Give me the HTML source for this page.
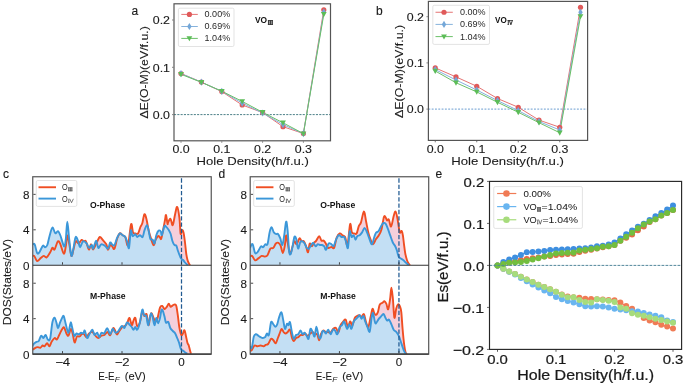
<!DOCTYPE html>
<html><head><meta charset="utf-8"><title>Figure</title>
<style>html,body{margin:0;padding:0;background:#fff;}body{width:685px;height:384px;overflow:hidden;font-family:"Liberation Sans",sans-serif;}svg{display:block;will-change:transform;}</style>
</head><body>
<svg width="685" height="384" viewBox="0 0 685 384" font-family='"Liberation Sans", sans-serif'>
<rect width="685" height="384" fill="#fff"/>
<line x1="174.00" y1="114.60" x2="330.50" y2="114.60" stroke="#4d8088" stroke-width="1.0" stroke-dasharray="2.1 1.2"/>
<polyline points="181.00,73.50 201.40,82.10 221.80,91.60 242.20,105.00 262.60,112.60 283.00,126.70 303.40,133.50 323.80,9.75" fill="none" stroke="#e57373" stroke-width="1.0"/>
<polyline points="181.00,73.60 201.40,82.20 221.80,91.30 242.20,103.10 262.60,113.00 283.00,124.60 303.40,133.60 323.80,12.20" fill="none" stroke="#86b2dc" stroke-width="1.0"/>
<polyline points="181.00,74.30 201.40,82.30 221.80,91.20 242.20,101.40 262.60,112.30 283.00,122.80 303.40,133.60 323.80,14.30" fill="none" stroke="#6cc068" stroke-width="1.0"/>
<circle cx="181.00" cy="73.50" r="2.60" fill="#e05a5a"/>
<circle cx="201.40" cy="82.10" r="2.60" fill="#e05a5a"/>
<circle cx="221.80" cy="91.60" r="2.60" fill="#e05a5a"/>
<circle cx="242.20" cy="105.00" r="2.60" fill="#e05a5a"/>
<circle cx="262.60" cy="112.60" r="2.60" fill="#e05a5a"/>
<circle cx="283.00" cy="126.70" r="2.60" fill="#e05a5a"/>
<circle cx="303.40" cy="133.50" r="2.60" fill="#e05a5a"/>
<circle cx="323.80" cy="9.75" r="2.60" fill="#e05a5a"/>
<polygon points="181.00,70.00 183.20,73.60 181.00,77.20 178.80,73.60" fill="#74a7d8"/>
<polygon points="201.40,78.60 203.60,82.20 201.40,85.80 199.20,82.20" fill="#74a7d8"/>
<polygon points="221.80,87.70 224.00,91.30 221.80,94.90 219.60,91.30" fill="#74a7d8"/>
<polygon points="242.20,99.50 244.40,103.10 242.20,106.70 240.00,103.10" fill="#74a7d8"/>
<polygon points="262.60,109.40 264.80,113.00 262.60,116.60 260.40,113.00" fill="#74a7d8"/>
<polygon points="283.00,121.00 285.20,124.60 283.00,128.20 280.80,124.60" fill="#74a7d8"/>
<polygon points="303.40,130.00 305.60,133.60 303.40,137.20 301.20,133.60" fill="#74a7d8"/>
<polygon points="323.80,8.60 326.00,12.20 323.80,15.80 321.60,12.20" fill="#74a7d8"/>
<polygon points="178.10,72.10 183.90,72.10 181.00,77.20" fill="#5cbd57"/>
<polygon points="198.50,80.10 204.30,80.10 201.40,85.20" fill="#5cbd57"/>
<polygon points="218.90,89.00 224.70,89.00 221.80,94.10" fill="#5cbd57"/>
<polygon points="239.30,99.20 245.10,99.20 242.20,104.30" fill="#5cbd57"/>
<polygon points="259.70,110.10 265.50,110.10 262.60,115.20" fill="#5cbd57"/>
<polygon points="280.10,120.60 285.90,120.60 283.00,125.70" fill="#5cbd57"/>
<polygon points="300.50,131.40 306.30,131.40 303.40,136.50" fill="#5cbd57"/>
<polygon points="320.90,12.10 326.70,12.10 323.80,17.20" fill="#5cbd57"/>
<rect x="174.00" y="3.80" width="156.50" height="137.00" fill="none" stroke="#555555" stroke-width="1.2"/>
<line x1="181.00" y1="141.40" x2="181.00" y2="142.70" stroke="#555555" stroke-width="0.8"/>
<text x="181.00" y="152.70" font-size="11.5" text-anchor="middle" fill="#1a1a1a" textLength="17.20" lengthAdjust="spacingAndGlyphs" stroke="#1a1a1a" stroke-width="0.12">0.0</text>
<line x1="221.80" y1="141.40" x2="221.80" y2="142.70" stroke="#555555" stroke-width="0.8"/>
<text x="221.80" y="152.70" font-size="11.5" text-anchor="middle" fill="#1a1a1a" textLength="17.20" lengthAdjust="spacingAndGlyphs" stroke="#1a1a1a" stroke-width="0.12">0.1</text>
<line x1="262.60" y1="141.40" x2="262.60" y2="142.70" stroke="#555555" stroke-width="0.8"/>
<text x="262.60" y="152.70" font-size="11.5" text-anchor="middle" fill="#1a1a1a" textLength="17.20" lengthAdjust="spacingAndGlyphs" stroke="#1a1a1a" stroke-width="0.12">0.2</text>
<line x1="303.40" y1="141.40" x2="303.40" y2="142.70" stroke="#555555" stroke-width="0.8"/>
<text x="303.40" y="152.70" font-size="11.5" text-anchor="middle" fill="#1a1a1a" textLength="17.20" lengthAdjust="spacingAndGlyphs" stroke="#1a1a1a" stroke-width="0.12">0.3</text>
<line x1="173.40" y1="114.60" x2="172.10" y2="114.60" stroke="#555555" stroke-width="0.8"/>
<text x="170.00" y="118.80" font-size="11.4" text-anchor="end" fill="#1a1a1a" textLength="17.20" lengthAdjust="spacingAndGlyphs" stroke="#1a1a1a" stroke-width="0.12">0.0</text>
<line x1="173.40" y1="67.30" x2="172.10" y2="67.30" stroke="#555555" stroke-width="0.8"/>
<text x="170.00" y="71.50" font-size="11.4" text-anchor="end" fill="#1a1a1a" textLength="17.20" lengthAdjust="spacingAndGlyphs" stroke="#1a1a1a" stroke-width="0.12">0.1</text>
<line x1="173.40" y1="20.00" x2="172.10" y2="20.00" stroke="#555555" stroke-width="0.8"/>
<text x="170.00" y="24.20" font-size="11.4" text-anchor="end" fill="#1a1a1a" textLength="17.20" lengthAdjust="spacingAndGlyphs" stroke="#1a1a1a" stroke-width="0.12">0.2</text>
<text x="196.60" y="165.20" font-size="10.6" text-anchor="start" fill="#1a1a1a" textLength="112.30" lengthAdjust="spacingAndGlyphs" stroke="#1a1a1a" stroke-width="0.08">Hole Density(h/f.u.)</text>
<text x="148.30" y="118.60" font-size="11.0" text-anchor="start" fill="#1a1a1a" textLength="92.40" lengthAdjust="spacingAndGlyphs" transform="rotate(-90 148.30 118.60)" stroke="#1a1a1a" stroke-width="0.10">ΔE(O-M)(eV/f.u.)</text>
<text x="131.60" y="14.80" font-size="12.0" text-anchor="start" fill="#1a1a1a" stroke="#1a1a1a" stroke-width="0.14">a</text>
<text x="255.00" y="23.40" font-size="8.6" text-anchor="start" fill="#111" textLength="12.10" lengthAdjust="spacingAndGlyphs" font-weight="bold">VO</text>
<rect x="267.90" y="20.10" width="5.00" height="4.80" fill="#9a9a9a"/>
<g fill="#333" opacity="1.0">
<rect x="267.90" y="20.10" width="5.00" height="0.80"/>
<rect x="267.90" y="24.10" width="5.00" height="0.80"/>
<rect x="268.05" y="20.10" width="0.90" height="4.80"/>
<rect x="269.95" y="20.10" width="0.90" height="4.80"/>
<rect x="271.85" y="20.10" width="0.90" height="4.80"/>
</g>
<rect x="178.40" y="8.20" width="55.60" height="38.30" rx="1.5" fill="#fff" fill-opacity="0.8" stroke="#dcdcdc" stroke-width="0.8"/>
<line x1="181.30" y1="14.40" x2="197.80" y2="14.40" stroke="#e57373" stroke-width="1.0"/>
<circle cx="189.40" cy="14.40" r="2.60" fill="#e05a5a"/>
<text x="204.60" y="17.30" font-size="8.3" text-anchor="start" fill="#2a2a2a" textLength="25.60" lengthAdjust="spacingAndGlyphs">0.00%</text>
<line x1="181.30" y1="26.50" x2="197.80" y2="26.50" stroke="#86b2dc" stroke-width="1.0"/>
<polygon points="189.40,22.90 191.60,26.50 189.40,30.10 187.20,26.50" fill="#74a7d8"/>
<text x="204.60" y="29.40" font-size="8.3" text-anchor="start" fill="#2a2a2a" textLength="25.60" lengthAdjust="spacingAndGlyphs">0.69%</text>
<line x1="181.30" y1="38.40" x2="197.80" y2="38.40" stroke="#6cc068" stroke-width="1.0"/>
<polygon points="186.50,36.20 192.30,36.20 189.40,41.30" fill="#5cbd57"/>
<text x="204.60" y="41.30" font-size="8.3" text-anchor="start" fill="#2a2a2a" textLength="25.60" lengthAdjust="spacingAndGlyphs">1.04%</text>
<line x1="428.40" y1="109.10" x2="587.60" y2="109.10" stroke="#6a9dd0" stroke-width="1.0" stroke-dasharray="1.9 1.4"/>
<polyline points="435.25,67.90 456.00,76.90 476.75,86.25 497.50,98.50 518.25,107.25 539.00,120.10 559.75,127.25 580.50,7.25" fill="none" stroke="#e57373" stroke-width="1.0"/>
<polyline points="435.25,69.60 456.00,80.00 476.75,90.00 497.50,100.60 518.25,110.60 539.00,121.50 559.75,130.00 580.50,12.25" fill="none" stroke="#86b2dc" stroke-width="1.0"/>
<polyline points="435.25,71.00 456.00,82.75 476.75,91.90 497.50,102.25 518.25,112.25 539.00,122.70 559.75,132.75 580.50,16.40" fill="none" stroke="#6cc068" stroke-width="1.0"/>
<circle cx="435.25" cy="67.90" r="2.60" fill="#e05a5a"/>
<circle cx="456.00" cy="76.90" r="2.60" fill="#e05a5a"/>
<circle cx="476.75" cy="86.25" r="2.60" fill="#e05a5a"/>
<circle cx="497.50" cy="98.50" r="2.60" fill="#e05a5a"/>
<circle cx="518.25" cy="107.25" r="2.60" fill="#e05a5a"/>
<circle cx="539.00" cy="120.10" r="2.60" fill="#e05a5a"/>
<circle cx="559.75" cy="127.25" r="2.60" fill="#e05a5a"/>
<circle cx="580.50" cy="7.25" r="2.60" fill="#e05a5a"/>
<polygon points="435.25,66.00 437.45,69.60 435.25,73.20 433.05,69.60" fill="#74a7d8"/>
<polygon points="456.00,76.40 458.20,80.00 456.00,83.60 453.80,80.00" fill="#74a7d8"/>
<polygon points="476.75,86.40 478.95,90.00 476.75,93.60 474.55,90.00" fill="#74a7d8"/>
<polygon points="497.50,97.00 499.70,100.60 497.50,104.20 495.30,100.60" fill="#74a7d8"/>
<polygon points="518.25,107.00 520.45,110.60 518.25,114.20 516.05,110.60" fill="#74a7d8"/>
<polygon points="539.00,117.90 541.20,121.50 539.00,125.10 536.80,121.50" fill="#74a7d8"/>
<polygon points="559.75,126.40 561.95,130.00 559.75,133.60 557.55,130.00" fill="#74a7d8"/>
<polygon points="580.50,8.65 582.70,12.25 580.50,15.85 578.30,12.25" fill="#74a7d8"/>
<polygon points="432.35,68.80 438.15,68.80 435.25,73.90" fill="#5cbd57"/>
<polygon points="453.10,80.55 458.90,80.55 456.00,85.65" fill="#5cbd57"/>
<polygon points="473.85,89.70 479.65,89.70 476.75,94.80" fill="#5cbd57"/>
<polygon points="494.60,100.05 500.40,100.05 497.50,105.15" fill="#5cbd57"/>
<polygon points="515.35,110.05 521.15,110.05 518.25,115.15" fill="#5cbd57"/>
<polygon points="536.10,120.50 541.90,120.50 539.00,125.60" fill="#5cbd57"/>
<polygon points="556.85,130.55 562.65,130.55 559.75,135.65" fill="#5cbd57"/>
<polygon points="577.60,14.20 583.40,14.20 580.50,19.30" fill="#5cbd57"/>
<rect x="428.40" y="1.40" width="159.20" height="139.00" fill="none" stroke="#555555" stroke-width="1.2"/>
<line x1="435.25" y1="141.00" x2="435.25" y2="142.30" stroke="#555555" stroke-width="0.8"/>
<text x="435.25" y="152.70" font-size="11.5" text-anchor="middle" fill="#1a1a1a" textLength="17.20" lengthAdjust="spacingAndGlyphs" stroke="#1a1a1a" stroke-width="0.12">0.0</text>
<line x1="476.75" y1="141.00" x2="476.75" y2="142.30" stroke="#555555" stroke-width="0.8"/>
<text x="476.75" y="152.70" font-size="11.5" text-anchor="middle" fill="#1a1a1a" textLength="17.20" lengthAdjust="spacingAndGlyphs" stroke="#1a1a1a" stroke-width="0.12">0.1</text>
<line x1="518.25" y1="141.00" x2="518.25" y2="142.30" stroke="#555555" stroke-width="0.8"/>
<text x="518.25" y="152.70" font-size="11.5" text-anchor="middle" fill="#1a1a1a" textLength="17.20" lengthAdjust="spacingAndGlyphs" stroke="#1a1a1a" stroke-width="0.12">0.2</text>
<line x1="559.75" y1="141.00" x2="559.75" y2="142.30" stroke="#555555" stroke-width="0.8"/>
<text x="559.75" y="152.70" font-size="11.5" text-anchor="middle" fill="#1a1a1a" textLength="17.20" lengthAdjust="spacingAndGlyphs" stroke="#1a1a1a" stroke-width="0.12">0.3</text>
<line x1="427.80" y1="109.10" x2="426.50" y2="109.10" stroke="#555555" stroke-width="0.8"/>
<text x="424.00" y="113.30" font-size="11.4" text-anchor="end" fill="#1a1a1a" textLength="17.20" lengthAdjust="spacingAndGlyphs" stroke="#1a1a1a" stroke-width="0.12">0.0</text>
<line x1="427.80" y1="62.90" x2="426.50" y2="62.90" stroke="#555555" stroke-width="0.8"/>
<text x="424.00" y="67.10" font-size="11.4" text-anchor="end" fill="#1a1a1a" textLength="17.20" lengthAdjust="spacingAndGlyphs" stroke="#1a1a1a" stroke-width="0.12">0.1</text>
<line x1="427.80" y1="16.70" x2="426.50" y2="16.70" stroke="#555555" stroke-width="0.8"/>
<text x="424.00" y="20.90" font-size="11.4" text-anchor="end" fill="#1a1a1a" textLength="17.20" lengthAdjust="spacingAndGlyphs" stroke="#1a1a1a" stroke-width="0.12">0.2</text>
<text x="451.20" y="165.20" font-size="10.6" text-anchor="start" fill="#1a1a1a" textLength="112.80" lengthAdjust="spacingAndGlyphs" stroke="#1a1a1a" stroke-width="0.08">Hole Density(h/f.u.)</text>
<text x="402.90" y="118.00" font-size="11.0" text-anchor="start" fill="#1a1a1a" textLength="93.20" lengthAdjust="spacingAndGlyphs" transform="rotate(-90 402.90 118.00)" stroke="#1a1a1a" stroke-width="0.10">ΔE(O-M)(eV/f.u.)</text>
<text x="375.90" y="14.80" font-size="12.0" text-anchor="start" fill="#1a1a1a" stroke="#1a1a1a" stroke-width="0.14">b</text>
<text x="495.10" y="23.40" font-size="8.6" text-anchor="start" fill="#111" textLength="11.70" lengthAdjust="spacingAndGlyphs" font-weight="bold">VO</text>
<g fill="#2a2a2a" stroke="none" opacity="1.0">
<rect x="507.50" y="20.10" width="5.00" height="0.75"/>
<rect x="507.80" y="20.10" width="0.95" height="4.70"/>
<rect x="507.50" y="24.20" width="1.55" height="0.6"/>
<path d="M509.25,20.10 L510.88,24.80 L512.50,20.10" fill="none" stroke="#2a2a2a" stroke-width="0.95"/>
</g>
<rect x="432.80" y="5.30" width="56.70" height="39.10" rx="1.5" fill="#fff" fill-opacity="0.8" stroke="#dcdcdc" stroke-width="0.8"/>
<line x1="435.50" y1="12.25" x2="452.80" y2="12.25" stroke="#e57373" stroke-width="1.0"/>
<circle cx="444.00" cy="12.25" r="2.60" fill="#e05a5a"/>
<text x="459.90" y="15.15" font-size="8.3" text-anchor="start" fill="#2a2a2a" textLength="25.60" lengthAdjust="spacingAndGlyphs">0.00%</text>
<line x1="435.50" y1="24.40" x2="452.80" y2="24.40" stroke="#86b2dc" stroke-width="1.0"/>
<polygon points="444.00,20.80 446.20,24.40 444.00,28.00 441.80,24.40" fill="#74a7d8"/>
<text x="459.90" y="27.30" font-size="8.3" text-anchor="start" fill="#2a2a2a" textLength="25.60" lengthAdjust="spacingAndGlyphs">0.69%</text>
<line x1="435.50" y1="36.60" x2="452.80" y2="36.60" stroke="#6cc068" stroke-width="1.0"/>
<polygon points="441.10,34.40 446.90,34.40 444.00,39.50" fill="#5cbd57"/>
<text x="459.90" y="39.50" font-size="8.3" text-anchor="start" fill="#2a2a2a" textLength="25.60" lengthAdjust="spacingAndGlyphs">1.04%</text>
<clipPath id="cct"><rect x="32.75" y="176.75" width="178.50" height="88.50"/></clipPath>
<g clip-path="url(#cct)">
<path d="M32.00,256.60 C32.37,256.48 33.35,255.17 34.20,255.90 C35.05,256.63 36.02,260.63 37.10,261.00 C38.18,261.37 39.60,258.95 40.70,258.10 C41.80,257.25 42.72,256.02 43.70,255.90 C44.68,255.78 45.52,258.00 46.60,257.40 C47.68,256.80 49.23,253.88 50.20,252.30 C51.17,250.72 51.67,248.38 52.40,247.90 C53.13,247.42 53.68,250.50 54.60,249.40 C55.52,248.30 56.93,242.15 57.90,241.30 C58.87,240.45 59.42,242.23 60.40,244.30 C61.38,246.37 62.90,253.35 63.80,253.70 C64.70,254.05 65.22,249.43 65.80,246.40 C66.38,243.37 66.73,235.98 67.30,235.50 C67.87,235.02 68.52,240.10 69.20,243.50 C69.88,246.90 70.68,254.92 71.40,255.90 C72.12,256.88 72.78,251.83 73.50,249.40 C74.22,246.97 74.85,242.28 75.70,241.30 C76.55,240.32 77.62,243.73 78.60,243.50 C79.58,243.27 80.75,240.27 81.60,239.90 C82.45,239.53 82.98,241.07 83.70,241.30 C84.42,241.53 85.03,239.95 85.90,241.30 C86.77,242.65 88.05,248.90 88.90,249.40 C89.75,249.90 90.28,244.30 91.00,244.30 C91.72,244.30 92.22,249.77 93.20,249.40 C94.18,249.03 95.80,244.17 96.90,242.10 C98.00,240.03 98.83,237.37 99.80,237.00 C100.77,236.63 101.62,238.68 102.70,239.90 C103.78,241.12 105.42,242.65 106.30,244.30 C107.18,245.95 107.35,249.65 108.00,249.80 C108.65,249.95 109.53,245.82 110.20,245.20 C110.87,244.58 111.30,245.50 112.00,246.10 C112.70,246.70 113.55,250.02 114.40,248.80 C115.25,247.58 116.20,241.37 117.10,238.80 C118.00,236.23 118.88,234.00 119.80,233.40 C120.72,232.80 121.68,234.60 122.60,235.20 C123.52,235.80 124.40,235.33 125.30,237.00 C126.20,238.67 127.03,247.33 128.00,245.20 C128.97,243.07 130.27,226.33 131.10,224.20 C131.93,222.07 132.30,230.87 133.00,232.40 C133.70,233.93 134.45,233.23 135.30,233.40 C136.15,233.57 137.25,234.47 138.10,233.40 C138.95,232.33 139.70,228.68 140.40,227.00 C141.10,225.32 141.63,225.43 142.30,223.30 C142.97,221.17 143.68,214.80 144.40,214.20 C145.12,213.60 145.92,217.12 146.60,219.70 C147.28,222.28 147.80,226.67 148.50,229.70 C149.20,232.73 149.95,235.32 150.80,237.90 C151.65,240.48 152.78,244.90 153.60,245.20 C154.42,245.50 154.95,241.22 155.70,239.70 C156.45,238.18 157.38,236.47 158.10,236.10 C158.82,235.73 159.47,237.06 160.00,237.50 C160.53,237.94 160.73,240.00 161.25,238.75 C161.77,237.50 162.47,233.12 163.10,230.00 C163.72,226.88 164.52,222.48 165.00,220.00 C165.48,217.52 165.58,214.47 166.00,215.10 C166.42,215.72 167.15,222.53 167.50,223.75 C167.85,224.97 167.60,223.22 168.10,222.40 C168.60,221.58 169.73,218.33 170.50,218.80 C171.27,219.27 171.93,225.97 172.70,225.20 C173.47,224.43 174.35,217.25 175.10,214.20 C175.85,211.15 176.48,206.28 177.20,206.90 C177.92,207.52 178.83,213.43 179.40,217.90 C179.97,222.38 180.18,231.73 180.60,233.75 C181.02,235.77 181.42,230.21 181.90,230.00 C182.38,229.79 182.98,230.42 183.50,232.50 C184.02,234.58 184.54,238.96 185.00,242.50 C185.46,246.04 185.83,250.83 186.25,253.75 C186.67,256.67 187.04,258.33 187.50,260.00 C187.96,261.67 188.58,262.88 189.00,263.75 C189.42,264.62 189.83,264.96 190.00,265.20 L190.00,267.25 L32.00,267.25 Z" fill="#f5cfdb"/>
<path d="M32.00,245.00 C32.43,244.88 33.75,242.97 34.60,244.30 C35.45,245.63 36.32,251.67 37.10,253.00 C37.88,254.33 38.33,253.52 39.30,252.30 C40.27,251.08 41.93,246.55 42.90,245.70 C43.87,244.85 44.37,247.32 45.10,247.20 C45.83,247.08 46.57,246.83 47.30,245.00 C48.03,243.17 48.65,239.12 49.50,236.20 C50.35,233.28 51.43,227.98 52.40,227.50 C53.37,227.02 54.38,232.70 55.30,233.30 C56.22,233.90 57.05,230.73 57.90,231.10 C58.75,231.47 59.37,232.95 60.40,235.50 C61.43,238.05 63.20,245.78 64.10,246.40 C65.00,247.02 65.27,243.32 65.80,239.20 C66.33,235.08 66.73,221.70 67.30,221.70 C67.87,221.70 68.52,233.50 69.20,239.20 C69.88,244.90 70.68,254.45 71.40,255.90 C72.12,257.35 72.78,251.05 73.50,247.90 C74.22,244.75 74.88,237.97 75.70,237.00 C76.52,236.03 77.67,240.40 78.40,242.10 C79.13,243.80 79.33,247.33 80.10,247.20 C80.87,247.07 81.90,241.92 83.00,241.30 C84.10,240.68 85.72,242.40 86.70,243.50 C87.68,244.60 88.05,247.65 88.90,247.90 C89.75,248.15 91.08,244.88 91.80,245.00 C92.52,245.12 92.48,249.33 93.20,248.60 C93.92,247.87 95.25,240.72 96.10,240.60 C96.95,240.48 97.45,247.28 98.30,247.90 C99.15,248.52 100.10,244.67 101.20,244.30 C102.30,243.93 103.77,244.95 104.90,245.70 C106.03,246.45 107.12,249.33 108.00,248.80 C108.88,248.27 109.53,243.25 110.20,242.50 C110.87,241.75 111.30,243.85 112.00,244.30 C112.70,244.75 113.55,246.27 114.40,245.20 C115.25,244.13 116.20,239.87 117.10,237.90 C118.00,235.93 118.88,233.85 119.80,233.40 C120.72,232.95 121.68,234.60 122.60,235.20 C123.52,235.80 124.55,235.93 125.30,237.00 C126.05,238.07 126.48,239.78 127.10,241.60 C127.72,243.42 128.38,249.73 129.00,247.90 C129.62,246.07 130.20,232.57 130.80,230.60 C131.40,228.63 131.85,235.48 132.60,236.10 C133.35,236.72 134.53,234.15 135.30,234.30 C136.07,234.45 136.43,236.85 137.20,237.00 C137.97,237.15 139.00,235.20 139.90,235.20 C140.80,235.20 141.85,237.77 142.60,237.00 C143.35,236.23 143.70,232.57 144.40,230.60 C145.10,228.63 146.12,225.35 146.80,225.20 C147.48,225.05 147.92,227.43 148.50,229.70 C149.08,231.97 149.62,237.13 150.30,238.80 C150.98,240.47 151.90,238.93 152.60,239.70 C153.30,240.47 153.88,244.15 154.50,243.40 C155.12,242.65 155.60,237.33 156.30,235.20 C157.00,233.07 157.95,231.22 158.70,230.60 C159.45,229.98 160.27,230.77 160.80,231.50 C161.33,232.23 161.30,235.88 161.90,235.00 C162.50,234.12 163.68,227.60 164.40,226.25 C165.12,224.90 165.53,226.28 166.25,226.90 C166.97,227.53 168.03,228.86 168.75,230.00 C169.47,231.14 169.97,231.88 170.60,233.75 C171.22,235.62 171.87,239.38 172.50,241.25 C173.13,243.12 173.78,244.28 174.40,245.00 C175.03,245.72 175.63,244.56 176.25,245.60 C176.87,246.64 177.47,249.47 178.10,251.25 C178.72,253.03 179.47,255.00 180.00,256.25 C180.53,257.50 180.73,258.12 181.25,258.75 C181.77,259.38 182.47,259.38 183.10,260.00 C183.72,260.62 184.37,261.77 185.00,262.50 C185.63,263.23 186.40,263.95 186.90,264.40 C187.40,264.85 187.82,265.07 188.00,265.20 L188.00,267.25 L32.00,267.25 Z" fill="#c3dff4"/>
<path d="M32.00,256.60 C32.37,256.48 33.35,255.17 34.20,255.90 C35.05,256.63 36.02,260.63 37.10,261.00 C38.18,261.37 39.60,258.95 40.70,258.10 C41.80,257.25 42.72,256.02 43.70,255.90 C44.68,255.78 45.52,258.00 46.60,257.40 C47.68,256.80 49.23,253.88 50.20,252.30 C51.17,250.72 51.67,248.38 52.40,247.90 C53.13,247.42 53.68,250.50 54.60,249.40 C55.52,248.30 56.93,242.15 57.90,241.30 C58.87,240.45 59.42,242.23 60.40,244.30 C61.38,246.37 62.90,253.35 63.80,253.70 C64.70,254.05 65.22,249.43 65.80,246.40 C66.38,243.37 66.73,235.98 67.30,235.50 C67.87,235.02 68.52,240.10 69.20,243.50 C69.88,246.90 70.68,254.92 71.40,255.90 C72.12,256.88 72.78,251.83 73.50,249.40 C74.22,246.97 74.85,242.28 75.70,241.30 C76.55,240.32 77.62,243.73 78.60,243.50 C79.58,243.27 80.75,240.27 81.60,239.90 C82.45,239.53 82.98,241.07 83.70,241.30 C84.42,241.53 85.03,239.95 85.90,241.30 C86.77,242.65 88.05,248.90 88.90,249.40 C89.75,249.90 90.28,244.30 91.00,244.30 C91.72,244.30 92.22,249.77 93.20,249.40 C94.18,249.03 95.80,244.17 96.90,242.10 C98.00,240.03 98.83,237.37 99.80,237.00 C100.77,236.63 101.62,238.68 102.70,239.90 C103.78,241.12 105.42,242.65 106.30,244.30 C107.18,245.95 107.35,249.65 108.00,249.80 C108.65,249.95 109.53,245.82 110.20,245.20 C110.87,244.58 111.30,245.50 112.00,246.10 C112.70,246.70 113.55,250.02 114.40,248.80 C115.25,247.58 116.20,241.37 117.10,238.80 C118.00,236.23 118.88,234.00 119.80,233.40 C120.72,232.80 121.68,234.60 122.60,235.20 C123.52,235.80 124.40,235.33 125.30,237.00 C126.20,238.67 127.03,247.33 128.00,245.20 C128.97,243.07 130.27,226.33 131.10,224.20 C131.93,222.07 132.30,230.87 133.00,232.40 C133.70,233.93 134.45,233.23 135.30,233.40 C136.15,233.57 137.25,234.47 138.10,233.40 C138.95,232.33 139.70,228.68 140.40,227.00 C141.10,225.32 141.63,225.43 142.30,223.30 C142.97,221.17 143.68,214.80 144.40,214.20 C145.12,213.60 145.92,217.12 146.60,219.70 C147.28,222.28 147.80,226.67 148.50,229.70 C149.20,232.73 149.95,235.32 150.80,237.90 C151.65,240.48 152.78,244.90 153.60,245.20 C154.42,245.50 154.95,241.22 155.70,239.70 C156.45,238.18 157.38,236.47 158.10,236.10 C158.82,235.73 159.47,237.06 160.00,237.50 C160.53,237.94 160.73,240.00 161.25,238.75 C161.77,237.50 162.47,233.12 163.10,230.00 C163.72,226.88 164.52,222.48 165.00,220.00 C165.48,217.52 165.58,214.47 166.00,215.10 C166.42,215.72 167.15,222.53 167.50,223.75 C167.85,224.97 167.60,223.22 168.10,222.40 C168.60,221.58 169.73,218.33 170.50,218.80 C171.27,219.27 171.93,225.97 172.70,225.20 C173.47,224.43 174.35,217.25 175.10,214.20 C175.85,211.15 176.48,206.28 177.20,206.90 C177.92,207.52 178.83,213.43 179.40,217.90 C179.97,222.38 180.18,231.73 180.60,233.75 C181.02,235.77 181.42,230.21 181.90,230.00 C182.38,229.79 182.98,230.42 183.50,232.50 C184.02,234.58 184.54,238.96 185.00,242.50 C185.46,246.04 185.83,250.83 186.25,253.75 C186.67,256.67 187.04,258.33 187.50,260.00 C187.96,261.67 188.58,262.88 189.00,263.75 C189.42,264.62 189.83,264.96 190.00,265.20" fill="none" stroke="#f04e23" stroke-width="1.9" stroke-linejoin="round"/>
<path d="M32.00,245.00 C32.43,244.88 33.75,242.97 34.60,244.30 C35.45,245.63 36.32,251.67 37.10,253.00 C37.88,254.33 38.33,253.52 39.30,252.30 C40.27,251.08 41.93,246.55 42.90,245.70 C43.87,244.85 44.37,247.32 45.10,247.20 C45.83,247.08 46.57,246.83 47.30,245.00 C48.03,243.17 48.65,239.12 49.50,236.20 C50.35,233.28 51.43,227.98 52.40,227.50 C53.37,227.02 54.38,232.70 55.30,233.30 C56.22,233.90 57.05,230.73 57.90,231.10 C58.75,231.47 59.37,232.95 60.40,235.50 C61.43,238.05 63.20,245.78 64.10,246.40 C65.00,247.02 65.27,243.32 65.80,239.20 C66.33,235.08 66.73,221.70 67.30,221.70 C67.87,221.70 68.52,233.50 69.20,239.20 C69.88,244.90 70.68,254.45 71.40,255.90 C72.12,257.35 72.78,251.05 73.50,247.90 C74.22,244.75 74.88,237.97 75.70,237.00 C76.52,236.03 77.67,240.40 78.40,242.10 C79.13,243.80 79.33,247.33 80.10,247.20 C80.87,247.07 81.90,241.92 83.00,241.30 C84.10,240.68 85.72,242.40 86.70,243.50 C87.68,244.60 88.05,247.65 88.90,247.90 C89.75,248.15 91.08,244.88 91.80,245.00 C92.52,245.12 92.48,249.33 93.20,248.60 C93.92,247.87 95.25,240.72 96.10,240.60 C96.95,240.48 97.45,247.28 98.30,247.90 C99.15,248.52 100.10,244.67 101.20,244.30 C102.30,243.93 103.77,244.95 104.90,245.70 C106.03,246.45 107.12,249.33 108.00,248.80 C108.88,248.27 109.53,243.25 110.20,242.50 C110.87,241.75 111.30,243.85 112.00,244.30 C112.70,244.75 113.55,246.27 114.40,245.20 C115.25,244.13 116.20,239.87 117.10,237.90 C118.00,235.93 118.88,233.85 119.80,233.40 C120.72,232.95 121.68,234.60 122.60,235.20 C123.52,235.80 124.55,235.93 125.30,237.00 C126.05,238.07 126.48,239.78 127.10,241.60 C127.72,243.42 128.38,249.73 129.00,247.90 C129.62,246.07 130.20,232.57 130.80,230.60 C131.40,228.63 131.85,235.48 132.60,236.10 C133.35,236.72 134.53,234.15 135.30,234.30 C136.07,234.45 136.43,236.85 137.20,237.00 C137.97,237.15 139.00,235.20 139.90,235.20 C140.80,235.20 141.85,237.77 142.60,237.00 C143.35,236.23 143.70,232.57 144.40,230.60 C145.10,228.63 146.12,225.35 146.80,225.20 C147.48,225.05 147.92,227.43 148.50,229.70 C149.08,231.97 149.62,237.13 150.30,238.80 C150.98,240.47 151.90,238.93 152.60,239.70 C153.30,240.47 153.88,244.15 154.50,243.40 C155.12,242.65 155.60,237.33 156.30,235.20 C157.00,233.07 157.95,231.22 158.70,230.60 C159.45,229.98 160.27,230.77 160.80,231.50 C161.33,232.23 161.30,235.88 161.90,235.00 C162.50,234.12 163.68,227.60 164.40,226.25 C165.12,224.90 165.53,226.28 166.25,226.90 C166.97,227.53 168.03,228.86 168.75,230.00 C169.47,231.14 169.97,231.88 170.60,233.75 C171.22,235.62 171.87,239.38 172.50,241.25 C173.13,243.12 173.78,244.28 174.40,245.00 C175.03,245.72 175.63,244.56 176.25,245.60 C176.87,246.64 177.47,249.47 178.10,251.25 C178.72,253.03 179.47,255.00 180.00,256.25 C180.53,257.50 180.73,258.12 181.25,258.75 C181.77,259.38 182.47,259.38 183.10,260.00 C183.72,260.62 184.37,261.77 185.00,262.50 C185.63,263.23 186.40,263.95 186.90,264.40 C187.40,264.85 187.82,265.07 188.00,265.20" fill="none" stroke="#3b97d9" stroke-width="1.9" stroke-linejoin="round"/>
</g>
<clipPath id="ccb"><rect x="32.75" y="265.25" width="178.50" height="88.85"/></clipPath>
<g clip-path="url(#ccb)">
<path d="M32.00,350.10 C32.38,349.85 33.42,349.10 34.30,348.60 C35.18,348.10 36.30,347.23 37.30,347.10 C38.30,346.97 39.42,348.07 40.30,347.80 C41.18,347.53 41.92,345.75 42.60,345.50 C43.28,345.25 43.65,346.67 44.40,346.30 C45.15,345.93 46.27,343.30 47.10,343.30 C47.93,343.30 48.65,346.55 49.40,346.30 C50.15,346.05 50.73,343.18 51.60,341.80 C52.47,340.42 53.72,338.38 54.60,338.00 C55.48,337.62 56.13,340.00 56.90,339.50 C57.67,339.00 58.45,336.50 59.20,335.00 C59.95,333.50 60.60,331.77 61.40,330.50 C62.20,329.23 63.17,326.90 64.00,327.40 C64.83,327.90 65.65,332.12 66.40,333.50 C67.15,334.88 67.75,336.47 68.50,335.70 C69.25,334.93 70.18,329.15 70.90,328.90 C71.62,328.65 72.18,331.93 72.80,334.20 C73.42,336.47 73.90,342.12 74.60,342.50 C75.30,342.88 76.18,337.50 77.00,336.50 C77.82,335.50 78.70,336.88 79.50,336.50 C80.30,336.12 81.03,334.58 81.80,334.20 C82.57,333.82 83.35,333.70 84.10,334.20 C84.85,334.70 85.47,337.32 86.30,337.20 C87.13,337.08 88.08,334.37 89.10,333.50 C90.12,332.63 91.35,331.63 92.40,332.00 C93.45,332.37 94.40,334.70 95.40,335.70 C96.40,336.70 97.40,338.00 98.40,338.00 C99.40,338.00 100.38,336.20 101.40,335.70 C102.42,335.20 103.48,335.62 104.50,335.00 C105.52,334.38 106.55,331.97 107.50,332.00 C108.45,332.03 109.20,335.88 110.20,335.20 C111.20,334.52 112.42,328.05 113.50,327.90 C114.58,327.75 115.80,333.68 116.70,334.30 C117.60,334.92 117.98,332.82 118.90,331.60 C119.82,330.38 121.22,327.92 122.20,327.00 C123.18,326.08 123.98,326.70 124.80,326.10 C125.62,325.50 126.32,324.77 127.10,323.40 C127.88,322.03 128.73,317.60 129.50,317.90 C130.27,318.20 131.03,324.75 131.70,325.20 C132.37,325.65 132.90,321.82 133.50,320.60 C134.10,319.38 134.68,316.98 135.30,317.90 C135.92,318.82 136.43,325.35 137.20,326.10 C137.97,326.85 139.05,324.83 139.90,322.40 C140.75,319.97 141.55,312.55 142.30,311.50 C143.05,310.45 143.68,315.65 144.40,316.10 C145.12,316.55 145.92,312.68 146.60,314.20 C147.28,315.72 147.88,324.88 148.50,325.20 C149.12,325.52 149.77,318.08 150.30,316.10 C150.83,314.12 151.15,313.00 151.70,313.30 C152.25,313.60 152.93,316.53 153.60,317.90 C154.27,319.27 155.03,321.50 155.70,321.50 C156.37,321.50 156.88,320.22 157.60,317.90 C158.32,315.58 159.22,309.58 160.00,307.60 C160.78,305.62 161.55,305.75 162.30,306.00 C163.05,306.25 163.75,308.97 164.50,309.10 C165.25,309.23 166.08,307.68 166.80,306.80 C167.52,305.92 168.17,303.80 168.80,303.80 C169.43,303.80 169.93,306.55 170.60,306.80 C171.27,307.05 172.10,305.68 172.80,305.30 C173.50,304.92 174.22,304.38 174.80,304.50 C175.38,304.62 175.80,304.23 176.30,306.00 C176.80,307.77 177.30,311.57 177.80,315.10 C178.30,318.63 178.73,323.92 179.30,327.20 C179.87,330.48 180.63,333.67 181.20,334.80 C181.77,335.93 182.15,334.77 182.70,334.00 C183.25,333.23 183.95,329.82 184.50,330.20 C185.05,330.58 185.50,334.15 186.00,336.30 C186.50,338.45 187.05,341.58 187.50,343.10 C187.95,344.62 188.30,344.27 188.70,345.40 C189.10,346.53 189.52,348.50 189.90,349.90 C190.28,351.30 190.82,353.15 191.00,353.80 L191.00,356.10 L32.00,356.10 Z" fill="#f5cfdb"/>
<path d="M32.00,346.30 C32.38,345.80 33.55,344.05 34.30,343.30 C35.05,342.55 35.75,342.18 36.50,341.80 C37.25,341.42 38.03,342.02 38.80,341.00 C39.57,339.98 40.35,336.20 41.10,335.70 C41.85,335.20 42.55,338.12 43.30,338.00 C44.05,337.88 44.85,334.75 45.60,335.00 C46.35,335.25 47.05,338.87 47.80,339.50 C48.55,340.13 49.33,341.68 50.10,338.80 C50.87,335.92 51.65,325.73 52.40,322.20 C53.15,318.67 53.92,317.48 54.60,317.60 C55.28,317.72 55.93,321.13 56.50,322.90 C57.07,324.67 57.43,328.20 58.00,328.20 C58.57,328.20 59.20,324.67 59.90,322.90 C60.60,321.13 61.57,318.73 62.20,317.60 C62.83,316.47 63.15,315.22 63.70,316.10 C64.25,316.98 64.75,320.13 65.50,322.90 C66.25,325.67 67.50,332.07 68.20,332.70 C68.90,333.33 69.25,328.45 69.70,326.70 C70.15,324.95 70.52,322.20 70.90,322.20 C71.28,322.20 71.43,324.45 72.00,326.70 C72.57,328.95 73.55,334.57 74.30,335.70 C75.05,336.83 75.75,333.75 76.50,333.50 C77.25,333.25 78.03,334.33 78.80,334.20 C79.57,334.07 80.35,332.82 81.10,332.70 C81.85,332.58 82.68,333.87 83.30,333.50 C83.92,333.13 84.17,329.75 84.80,330.50 C85.43,331.25 86.33,337.38 87.10,338.00 C87.87,338.62 88.52,335.58 89.40,334.20 C90.28,332.82 91.53,329.57 92.40,329.70 C93.27,329.83 93.80,334.50 94.60,335.00 C95.40,335.50 96.43,332.33 97.20,332.70 C97.97,333.07 98.50,337.20 99.20,337.20 C99.90,337.20 100.57,333.32 101.40,332.70 C102.23,332.08 103.23,334.25 104.20,333.50 C105.17,332.75 106.20,328.07 107.20,328.20 C108.20,328.33 109.30,334.20 110.20,334.30 C111.10,334.40 111.75,329.10 112.60,328.80 C113.45,328.50 114.40,332.03 115.30,332.50 C116.20,332.97 116.93,332.67 118.00,331.60 C119.07,330.53 120.63,326.72 121.70,326.10 C122.77,325.48 123.50,328.52 124.40,327.90 C125.30,327.28 126.18,322.85 127.10,322.40 C128.02,321.95 129.13,324.43 129.90,325.20 C130.67,325.97 131.10,326.25 131.70,327.00 C132.30,327.75 132.90,329.70 133.50,329.70 C134.10,329.70 134.68,327.00 135.30,327.00 C135.92,327.00 136.43,330.47 137.20,329.70 C137.97,328.93 139.05,325.73 139.90,322.40 C140.75,319.07 141.60,310.90 142.30,309.70 C143.00,308.50 143.43,314.13 144.10,315.20 C144.77,316.27 145.63,314.43 146.30,316.10 C146.97,317.77 147.50,325.05 148.10,325.20 C148.70,325.35 149.38,318.98 149.90,317.00 C150.42,315.02 150.75,313.30 151.20,313.30 C151.65,313.30 152.05,315.02 152.60,317.00 C153.15,318.98 153.88,325.05 154.50,325.20 C155.12,325.35 155.70,318.20 156.30,317.90 C156.90,317.60 157.48,323.37 158.10,323.40 C158.72,323.43 159.43,320.37 160.00,318.10 C160.57,315.83 161.00,310.93 161.50,309.80 C162.00,308.67 162.50,310.17 163.00,311.30 C163.50,312.43 164.00,314.70 164.50,316.60 C165.00,318.50 165.37,321.82 166.00,322.70 C166.63,323.58 167.58,321.02 168.30,321.90 C169.02,322.78 169.55,326.48 170.30,328.00 C171.05,329.52 172.00,330.12 172.80,331.00 C173.60,331.88 174.33,332.05 175.10,333.30 C175.87,334.55 176.77,337.00 177.40,338.50 C178.03,340.00 178.40,340.78 178.90,342.30 C179.40,343.82 179.97,346.33 180.40,347.60 C180.83,348.87 181.07,349.40 181.50,349.90 C181.93,350.40 182.43,350.22 183.00,350.60 C183.57,350.98 184.20,351.67 184.90,352.20 C185.60,352.73 186.82,353.53 187.20,353.80 L187.20,356.10 L32.00,356.10 Z" fill="#c3dff4"/>
<path d="M32.00,350.10 C32.38,349.85 33.42,349.10 34.30,348.60 C35.18,348.10 36.30,347.23 37.30,347.10 C38.30,346.97 39.42,348.07 40.30,347.80 C41.18,347.53 41.92,345.75 42.60,345.50 C43.28,345.25 43.65,346.67 44.40,346.30 C45.15,345.93 46.27,343.30 47.10,343.30 C47.93,343.30 48.65,346.55 49.40,346.30 C50.15,346.05 50.73,343.18 51.60,341.80 C52.47,340.42 53.72,338.38 54.60,338.00 C55.48,337.62 56.13,340.00 56.90,339.50 C57.67,339.00 58.45,336.50 59.20,335.00 C59.95,333.50 60.60,331.77 61.40,330.50 C62.20,329.23 63.17,326.90 64.00,327.40 C64.83,327.90 65.65,332.12 66.40,333.50 C67.15,334.88 67.75,336.47 68.50,335.70 C69.25,334.93 70.18,329.15 70.90,328.90 C71.62,328.65 72.18,331.93 72.80,334.20 C73.42,336.47 73.90,342.12 74.60,342.50 C75.30,342.88 76.18,337.50 77.00,336.50 C77.82,335.50 78.70,336.88 79.50,336.50 C80.30,336.12 81.03,334.58 81.80,334.20 C82.57,333.82 83.35,333.70 84.10,334.20 C84.85,334.70 85.47,337.32 86.30,337.20 C87.13,337.08 88.08,334.37 89.10,333.50 C90.12,332.63 91.35,331.63 92.40,332.00 C93.45,332.37 94.40,334.70 95.40,335.70 C96.40,336.70 97.40,338.00 98.40,338.00 C99.40,338.00 100.38,336.20 101.40,335.70 C102.42,335.20 103.48,335.62 104.50,335.00 C105.52,334.38 106.55,331.97 107.50,332.00 C108.45,332.03 109.20,335.88 110.20,335.20 C111.20,334.52 112.42,328.05 113.50,327.90 C114.58,327.75 115.80,333.68 116.70,334.30 C117.60,334.92 117.98,332.82 118.90,331.60 C119.82,330.38 121.22,327.92 122.20,327.00 C123.18,326.08 123.98,326.70 124.80,326.10 C125.62,325.50 126.32,324.77 127.10,323.40 C127.88,322.03 128.73,317.60 129.50,317.90 C130.27,318.20 131.03,324.75 131.70,325.20 C132.37,325.65 132.90,321.82 133.50,320.60 C134.10,319.38 134.68,316.98 135.30,317.90 C135.92,318.82 136.43,325.35 137.20,326.10 C137.97,326.85 139.05,324.83 139.90,322.40 C140.75,319.97 141.55,312.55 142.30,311.50 C143.05,310.45 143.68,315.65 144.40,316.10 C145.12,316.55 145.92,312.68 146.60,314.20 C147.28,315.72 147.88,324.88 148.50,325.20 C149.12,325.52 149.77,318.08 150.30,316.10 C150.83,314.12 151.15,313.00 151.70,313.30 C152.25,313.60 152.93,316.53 153.60,317.90 C154.27,319.27 155.03,321.50 155.70,321.50 C156.37,321.50 156.88,320.22 157.60,317.90 C158.32,315.58 159.22,309.58 160.00,307.60 C160.78,305.62 161.55,305.75 162.30,306.00 C163.05,306.25 163.75,308.97 164.50,309.10 C165.25,309.23 166.08,307.68 166.80,306.80 C167.52,305.92 168.17,303.80 168.80,303.80 C169.43,303.80 169.93,306.55 170.60,306.80 C171.27,307.05 172.10,305.68 172.80,305.30 C173.50,304.92 174.22,304.38 174.80,304.50 C175.38,304.62 175.80,304.23 176.30,306.00 C176.80,307.77 177.30,311.57 177.80,315.10 C178.30,318.63 178.73,323.92 179.30,327.20 C179.87,330.48 180.63,333.67 181.20,334.80 C181.77,335.93 182.15,334.77 182.70,334.00 C183.25,333.23 183.95,329.82 184.50,330.20 C185.05,330.58 185.50,334.15 186.00,336.30 C186.50,338.45 187.05,341.58 187.50,343.10 C187.95,344.62 188.30,344.27 188.70,345.40 C189.10,346.53 189.52,348.50 189.90,349.90 C190.28,351.30 190.82,353.15 191.00,353.80" fill="none" stroke="#f04e23" stroke-width="1.9" stroke-linejoin="round"/>
<path d="M32.00,346.30 C32.38,345.80 33.55,344.05 34.30,343.30 C35.05,342.55 35.75,342.18 36.50,341.80 C37.25,341.42 38.03,342.02 38.80,341.00 C39.57,339.98 40.35,336.20 41.10,335.70 C41.85,335.20 42.55,338.12 43.30,338.00 C44.05,337.88 44.85,334.75 45.60,335.00 C46.35,335.25 47.05,338.87 47.80,339.50 C48.55,340.13 49.33,341.68 50.10,338.80 C50.87,335.92 51.65,325.73 52.40,322.20 C53.15,318.67 53.92,317.48 54.60,317.60 C55.28,317.72 55.93,321.13 56.50,322.90 C57.07,324.67 57.43,328.20 58.00,328.20 C58.57,328.20 59.20,324.67 59.90,322.90 C60.60,321.13 61.57,318.73 62.20,317.60 C62.83,316.47 63.15,315.22 63.70,316.10 C64.25,316.98 64.75,320.13 65.50,322.90 C66.25,325.67 67.50,332.07 68.20,332.70 C68.90,333.33 69.25,328.45 69.70,326.70 C70.15,324.95 70.52,322.20 70.90,322.20 C71.28,322.20 71.43,324.45 72.00,326.70 C72.57,328.95 73.55,334.57 74.30,335.70 C75.05,336.83 75.75,333.75 76.50,333.50 C77.25,333.25 78.03,334.33 78.80,334.20 C79.57,334.07 80.35,332.82 81.10,332.70 C81.85,332.58 82.68,333.87 83.30,333.50 C83.92,333.13 84.17,329.75 84.80,330.50 C85.43,331.25 86.33,337.38 87.10,338.00 C87.87,338.62 88.52,335.58 89.40,334.20 C90.28,332.82 91.53,329.57 92.40,329.70 C93.27,329.83 93.80,334.50 94.60,335.00 C95.40,335.50 96.43,332.33 97.20,332.70 C97.97,333.07 98.50,337.20 99.20,337.20 C99.90,337.20 100.57,333.32 101.40,332.70 C102.23,332.08 103.23,334.25 104.20,333.50 C105.17,332.75 106.20,328.07 107.20,328.20 C108.20,328.33 109.30,334.20 110.20,334.30 C111.10,334.40 111.75,329.10 112.60,328.80 C113.45,328.50 114.40,332.03 115.30,332.50 C116.20,332.97 116.93,332.67 118.00,331.60 C119.07,330.53 120.63,326.72 121.70,326.10 C122.77,325.48 123.50,328.52 124.40,327.90 C125.30,327.28 126.18,322.85 127.10,322.40 C128.02,321.95 129.13,324.43 129.90,325.20 C130.67,325.97 131.10,326.25 131.70,327.00 C132.30,327.75 132.90,329.70 133.50,329.70 C134.10,329.70 134.68,327.00 135.30,327.00 C135.92,327.00 136.43,330.47 137.20,329.70 C137.97,328.93 139.05,325.73 139.90,322.40 C140.75,319.07 141.60,310.90 142.30,309.70 C143.00,308.50 143.43,314.13 144.10,315.20 C144.77,316.27 145.63,314.43 146.30,316.10 C146.97,317.77 147.50,325.05 148.10,325.20 C148.70,325.35 149.38,318.98 149.90,317.00 C150.42,315.02 150.75,313.30 151.20,313.30 C151.65,313.30 152.05,315.02 152.60,317.00 C153.15,318.98 153.88,325.05 154.50,325.20 C155.12,325.35 155.70,318.20 156.30,317.90 C156.90,317.60 157.48,323.37 158.10,323.40 C158.72,323.43 159.43,320.37 160.00,318.10 C160.57,315.83 161.00,310.93 161.50,309.80 C162.00,308.67 162.50,310.17 163.00,311.30 C163.50,312.43 164.00,314.70 164.50,316.60 C165.00,318.50 165.37,321.82 166.00,322.70 C166.63,323.58 167.58,321.02 168.30,321.90 C169.02,322.78 169.55,326.48 170.30,328.00 C171.05,329.52 172.00,330.12 172.80,331.00 C173.60,331.88 174.33,332.05 175.10,333.30 C175.87,334.55 176.77,337.00 177.40,338.50 C178.03,340.00 178.40,340.78 178.90,342.30 C179.40,343.82 179.97,346.33 180.40,347.60 C180.83,348.87 181.07,349.40 181.50,349.90 C181.93,350.40 182.43,350.22 183.00,350.60 C183.57,350.98 184.20,351.67 184.90,352.20 C185.60,352.73 186.82,353.53 187.20,353.80" fill="none" stroke="#3b97d9" stroke-width="1.9" stroke-linejoin="round"/>
</g>
<line x1="181.50" y1="176.75" x2="181.50" y2="354.10" stroke="#215b92" stroke-width="1.25" stroke-dasharray="4.3 2.0" stroke-dashoffset="4.7"/>
<rect x="32.75" y="176.75" width="178.50" height="177.35" fill="none" stroke="#555555" stroke-width="1.2"/>
<line x1="32.75" y1="265.25" x2="211.25" y2="265.25" stroke="#333" stroke-width="1.2"/>
<line x1="32.75" y1="354.10" x2="211.25" y2="354.10" stroke="#333" stroke-width="1.2"/>
<line x1="62.50" y1="353.50" x2="62.50" y2="351.10" stroke="#333" stroke-width="0.9"/>
<line x1="62.50" y1="264.65" x2="62.50" y2="262.25" stroke="#333" stroke-width="0.9"/>
<text x="62.70" y="365.80" font-size="10.6" text-anchor="middle" fill="#1a1a1a" textLength="15.00" lengthAdjust="spacingAndGlyphs" stroke="#1a1a1a" stroke-width="0.08">−4</text>
<line x1="122.00" y1="353.50" x2="122.00" y2="351.10" stroke="#333" stroke-width="0.9"/>
<line x1="122.00" y1="264.65" x2="122.00" y2="262.25" stroke="#333" stroke-width="0.9"/>
<text x="122.20" y="365.80" font-size="10.6" text-anchor="middle" fill="#1a1a1a" textLength="15.00" lengthAdjust="spacingAndGlyphs" stroke="#1a1a1a" stroke-width="0.08">−2</text>
<line x1="181.50" y1="353.50" x2="181.50" y2="351.10" stroke="#333" stroke-width="0.9"/>
<line x1="181.50" y1="264.65" x2="181.50" y2="262.25" stroke="#333" stroke-width="0.9"/>
<text x="181.50" y="365.80" font-size="10.6" text-anchor="middle" fill="#1a1a1a" textLength="6.50" lengthAdjust="spacingAndGlyphs" stroke="#1a1a1a" stroke-width="0.08">0</text>
<text x="29.45" y="269.85" font-size="10.8" text-anchor="end" fill="#1a1a1a" textLength="6.50" lengthAdjust="spacingAndGlyphs" stroke="#1a1a1a" stroke-width="0.09">0</text>
<line x1="33.35" y1="229.81" x2="35.75" y2="229.81" stroke="#333" stroke-width="0.9"/>
<text x="29.45" y="234.41" font-size="10.8" text-anchor="end" fill="#1a1a1a" textLength="6.50" lengthAdjust="spacingAndGlyphs" stroke="#1a1a1a" stroke-width="0.09">4</text>
<line x1="33.35" y1="194.37" x2="35.75" y2="194.37" stroke="#333" stroke-width="0.9"/>
<text x="29.45" y="198.97" font-size="10.8" text-anchor="end" fill="#1a1a1a" textLength="6.50" lengthAdjust="spacingAndGlyphs" stroke="#1a1a1a" stroke-width="0.09">8</text>
<text x="29.45" y="358.70" font-size="10.8" text-anchor="end" fill="#1a1a1a" textLength="6.50" lengthAdjust="spacingAndGlyphs" stroke="#1a1a1a" stroke-width="0.09">0</text>
<line x1="33.35" y1="318.66" x2="35.75" y2="318.66" stroke="#333" stroke-width="0.9"/>
<text x="29.45" y="323.26" font-size="10.8" text-anchor="end" fill="#1a1a1a" textLength="6.50" lengthAdjust="spacingAndGlyphs" stroke="#1a1a1a" stroke-width="0.09">4</text>
<line x1="33.35" y1="283.22" x2="35.75" y2="283.22" stroke="#333" stroke-width="0.9"/>
<text x="29.45" y="287.82" font-size="10.8" text-anchor="end" fill="#1a1a1a" textLength="6.50" lengthAdjust="spacingAndGlyphs" stroke="#1a1a1a" stroke-width="0.09">8</text>
<text x="11.10" y="325.30" font-size="11.2" text-anchor="start" fill="#1a1a1a" textLength="86.40" lengthAdjust="spacingAndGlyphs" transform="rotate(-90 11.10 325.30)" stroke="#1a1a1a" stroke-width="0.11">DOS(States/eV)</text>
<text x="98.20" y="379.60" font-size="10.6" text-anchor="start" fill="#1a1a1a" textLength="16.40" lengthAdjust="spacingAndGlyphs" stroke="#1a1a1a" stroke-width="0.08">E-E</text>
<text x="114.80" y="381.60" font-size="7.6" text-anchor="start" fill="#1a1a1a" textLength="5.00" lengthAdjust="spacingAndGlyphs" font-style="italic">F</text>
<text x="124.70" y="379.60" font-size="10.6" text-anchor="start" fill="#1a1a1a" textLength="21.00" lengthAdjust="spacingAndGlyphs" stroke="#1a1a1a" stroke-width="0.08">(eV)</text>
<text x="3.00" y="178.10" font-size="12.0" text-anchor="start" fill="#1a1a1a" stroke="#1a1a1a" stroke-width="0.14">c</text>
<rect x="36.25" y="180.5" width="40.6" height="25.9" rx="1.5" fill="#fff" fill-opacity="0.8" stroke="#dcdcdc" stroke-width="0.8"/>
<line x1="38.50" y1="187.25" x2="56.00" y2="187.25" stroke="#f04e23" stroke-width="1.9"/>
<line x1="38.50" y1="198.60" x2="56.00" y2="198.60" stroke="#3b97d9" stroke-width="1.9"/>
<text x="61.90" y="190.20" font-size="8.4" text-anchor="start" fill="#222" textLength="5.70" lengthAdjust="spacingAndGlyphs">O</text>
<rect x="68.20" y="187.50" width="4.20" height="3.70" fill="#b0b0b0"/>
<g fill="#555" opacity="1.0">
<rect x="68.20" y="187.50" width="4.20" height="0.60"/>
<rect x="68.20" y="190.60" width="4.20" height="0.60"/>
<rect x="68.35" y="187.50" width="0.70" height="3.70"/>
<rect x="69.95" y="187.50" width="0.70" height="3.70"/>
<rect x="71.55" y="187.50" width="0.70" height="3.70"/>
</g>
<text x="61.90" y="202.00" font-size="8.4" text-anchor="start" fill="#222" textLength="5.70" lengthAdjust="spacingAndGlyphs">O</text>
<g fill="#444" stroke="none" opacity="1.0">
<rect x="68.50" y="198.80" width="0.70" height="3.90"/>
<rect x="68.20" y="202.10" width="1.30" height="0.6"/>
<path d="M69.70,198.80 L71.55,202.70 L73.40,198.80" fill="none" stroke="#444" stroke-width="0.70"/>
</g>
<text x="90.00" y="208.10" font-size="8.6" text-anchor="start" fill="#111" textLength="35.00" lengthAdjust="spacingAndGlyphs" font-weight="bold">O-Phase</text>
<text x="90.00" y="299.20" font-size="8.6" text-anchor="start" fill="#111" textLength="35.60" lengthAdjust="spacingAndGlyphs" font-weight="bold">M-Phase</text>
<clipPath id="ddt"><rect x="250.20" y="176.75" width="178.50" height="88.50"/></clipPath>
<g clip-path="url(#ddt)">
<path d="M250.00,256.60 C250.37,256.48 251.35,255.28 252.20,255.90 C253.05,256.52 254.02,259.93 255.10,260.30 C256.18,260.67 257.60,258.83 258.70,258.10 C259.80,257.37 260.72,256.15 261.70,255.90 C262.68,255.65 263.63,256.72 264.60,256.60 C265.57,256.48 266.53,256.53 267.50,255.20 C268.47,253.87 269.43,249.82 270.40,248.60 C271.37,247.38 272.38,248.75 273.30,247.90 C274.22,247.05 275.05,244.35 275.90,243.50 C276.75,242.65 277.62,242.43 278.40,242.80 C279.18,243.17 279.87,244.00 280.60,245.70 C281.33,247.40 282.12,252.88 282.80,253.00 C283.48,253.12 284.15,249.32 284.70,246.40 C285.25,243.48 285.62,236.22 286.10,235.50 C286.58,234.78 287.10,239.55 287.60,242.10 C288.10,244.65 288.62,248.87 289.10,250.80 C289.58,252.73 289.97,254.30 290.50,253.70 C291.03,253.10 291.65,249.27 292.30,247.20 C292.95,245.13 293.68,241.80 294.40,241.30 C295.12,240.80 295.75,244.68 296.60,244.20 C297.45,243.72 298.65,238.88 299.50,238.40 C300.35,237.92 300.97,240.82 301.70,241.30 C302.43,241.78 303.17,240.45 303.90,241.30 C304.63,242.15 305.42,244.57 306.10,246.40 C306.78,248.23 307.40,252.78 308.00,252.30 C308.60,251.82 309.05,244.48 309.70,243.50 C310.35,242.52 311.17,246.52 311.90,246.40 C312.63,246.28 313.37,243.77 314.10,242.80 C314.83,241.83 315.45,241.70 316.30,240.60 C317.15,239.50 318.35,236.20 319.20,236.20 C320.05,236.20 320.67,239.87 321.40,240.60 C322.13,241.33 322.87,240.12 323.60,240.60 C324.33,241.08 325.07,242.28 325.80,243.50 C326.53,244.72 327.05,247.32 328.00,247.90 C328.95,248.48 330.47,247.00 331.50,247.00 C332.53,247.00 333.35,249.42 334.20,247.90 C335.05,246.38 335.68,240.32 336.60,237.90 C337.52,235.48 338.73,233.85 339.70,233.40 C340.67,232.95 341.50,234.60 342.40,235.20 C343.30,235.80 344.25,235.33 345.10,237.00 C345.95,238.67 346.67,247.33 347.50,245.20 C348.33,243.07 349.37,226.33 350.10,224.20 C350.83,222.07 351.22,230.87 351.90,232.40 C352.58,233.93 353.42,233.23 354.20,233.40 C354.98,233.57 355.83,234.62 356.60,233.40 C357.37,232.18 358.07,227.93 358.80,226.10 C359.53,224.27 360.15,224.83 361.00,222.40 C361.85,219.97 363.05,211.65 363.90,211.50 C364.75,211.35 365.37,218.02 366.10,221.50 C366.83,224.98 367.55,229.37 368.30,232.40 C369.05,235.43 369.82,237.72 370.60,239.70 C371.38,241.68 372.10,244.42 373.00,244.30 C373.90,244.18 375.05,240.48 376.00,239.00 C376.95,237.52 377.82,236.88 378.70,235.40 C379.58,233.92 380.42,233.20 381.30,230.10 C382.18,227.00 383.27,218.87 384.00,216.80 C384.73,214.73 385.20,217.10 385.70,217.70 C386.20,218.30 386.48,220.10 387.00,220.40 C387.52,220.70 388.12,218.47 388.80,219.50 C389.48,220.53 390.28,227.20 391.10,226.60 C391.92,226.00 392.97,218.42 393.70,215.90 C394.43,213.38 394.90,211.20 395.50,211.50 C396.10,211.80 396.77,215.18 397.30,217.70 C397.83,220.22 398.27,224.08 398.70,226.60 C399.13,229.12 399.40,232.07 399.90,232.80 C400.40,233.53 401.20,230.57 401.70,231.00 C402.20,231.43 402.52,233.18 402.90,235.40 C403.28,237.62 403.62,241.35 404.00,244.30 C404.38,247.25 404.70,250.45 405.20,253.10 C405.70,255.75 406.40,258.42 407.00,260.20 C407.60,261.98 408.30,262.97 408.80,263.80 C409.30,264.63 409.80,264.97 410.00,265.20 L410.00,267.25 L250.00,267.25 Z" fill="#f5cfdb"/>
<path d="M250.00,247.90 C250.43,247.28 251.75,243.35 252.60,244.20 C253.45,245.05 254.20,251.78 255.10,253.00 C256.00,254.22 257.03,252.60 258.00,251.50 C258.97,250.40 260.05,247.12 260.90,246.40 C261.75,245.68 262.37,247.57 263.10,247.20 C263.83,246.83 264.57,244.70 265.30,244.20 C266.03,243.70 266.77,246.25 267.50,244.20 C268.23,242.15 269.02,234.73 269.70,231.90 C270.38,229.07 270.95,227.20 271.60,227.20 C272.25,227.20 272.88,230.77 273.60,231.90 C274.32,233.03 275.17,233.65 275.90,234.00 C276.63,234.35 277.27,233.27 278.00,234.00 C278.73,234.73 279.58,236.57 280.30,238.40 C281.02,240.23 281.65,245.48 282.30,245.00 C282.95,244.52 283.57,239.38 284.20,235.50 C284.83,231.62 285.53,222.55 286.10,221.70 C286.67,220.85 287.10,225.55 287.60,230.40 C288.10,235.25 288.62,246.80 289.10,250.80 C289.58,254.80 289.97,254.88 290.50,254.40 C291.03,253.92 291.65,250.80 292.30,247.90 C292.95,245.00 293.73,238.47 294.40,237.00 C295.07,235.53 295.68,237.17 296.30,239.10 C296.92,241.03 297.43,248.10 298.10,248.60 C298.77,249.10 299.57,243.32 300.30,242.10 C301.03,240.88 301.78,241.07 302.50,241.30 C303.22,241.53 303.88,242.40 304.60,243.50 C305.32,244.60 306.07,247.05 306.80,247.90 C307.53,248.75 308.27,249.08 309.00,248.60 C309.73,248.12 310.47,245.97 311.20,245.00 C311.93,244.03 312.67,242.57 313.40,242.80 C314.13,243.03 314.87,246.17 315.60,246.40 C316.33,246.63 317.08,244.43 317.80,244.20 C318.52,243.97 319.18,244.87 319.90,245.00 C320.62,245.13 321.37,244.77 322.10,245.00 C322.83,245.23 323.65,245.60 324.30,246.40 C324.95,247.20 325.27,250.30 326.00,249.80 C326.73,249.30 327.78,244.32 328.70,243.40 C329.62,242.48 330.67,243.85 331.50,244.30 C332.33,244.75 332.95,246.87 333.70,246.10 C334.45,245.33 335.15,241.52 336.00,239.70 C336.85,237.88 337.88,235.65 338.80,235.20 C339.72,234.75 340.60,236.70 341.50,237.00 C342.40,237.30 343.45,236.23 344.20,237.00 C344.95,237.77 345.38,239.78 346.00,241.60 C346.62,243.42 347.28,249.58 347.90,247.90 C348.52,246.22 349.10,233.32 349.70,231.50 C350.30,229.68 350.83,236.38 351.50,237.00 C352.17,237.62 353.03,234.75 353.70,235.20 C354.37,235.65 354.90,239.55 355.50,239.70 C356.10,239.85 356.60,236.85 357.30,236.10 C358.00,235.35 358.90,235.82 359.70,235.20 C360.50,234.58 361.28,233.62 362.10,232.40 C362.92,231.18 363.78,227.90 364.60,227.90 C365.42,227.90 366.20,230.58 367.00,232.40 C367.80,234.22 368.58,236.82 369.40,238.80 C370.22,240.78 371.08,244.60 371.90,244.30 C372.72,244.00 373.62,238.92 374.30,237.00 C374.98,235.08 375.27,233.80 376.00,232.80 C376.73,231.80 377.82,232.18 378.70,231.00 C379.58,229.82 380.52,227.03 381.30,225.70 C382.08,224.37 382.67,223.30 383.40,223.00 C384.13,222.70 384.93,222.87 385.70,223.90 C386.47,224.93 387.25,227.28 388.00,229.20 C388.75,231.12 389.40,233.18 390.20,235.40 C391.00,237.62 391.98,240.73 392.80,242.50 C393.62,244.27 394.42,244.67 395.10,246.00 C395.78,247.33 396.30,248.72 396.90,250.50 C397.50,252.28 398.05,255.38 398.70,256.70 C399.35,258.02 400.00,257.82 400.80,258.40 C401.60,258.98 402.62,259.45 403.50,260.20 C404.38,260.95 405.37,262.22 406.10,262.90 C406.83,263.58 407.42,263.92 407.90,264.30 C408.38,264.68 408.82,265.05 409.00,265.20 L409.00,267.25 L250.00,267.25 Z" fill="#c3dff4"/>
<path d="M250.00,256.60 C250.37,256.48 251.35,255.28 252.20,255.90 C253.05,256.52 254.02,259.93 255.10,260.30 C256.18,260.67 257.60,258.83 258.70,258.10 C259.80,257.37 260.72,256.15 261.70,255.90 C262.68,255.65 263.63,256.72 264.60,256.60 C265.57,256.48 266.53,256.53 267.50,255.20 C268.47,253.87 269.43,249.82 270.40,248.60 C271.37,247.38 272.38,248.75 273.30,247.90 C274.22,247.05 275.05,244.35 275.90,243.50 C276.75,242.65 277.62,242.43 278.40,242.80 C279.18,243.17 279.87,244.00 280.60,245.70 C281.33,247.40 282.12,252.88 282.80,253.00 C283.48,253.12 284.15,249.32 284.70,246.40 C285.25,243.48 285.62,236.22 286.10,235.50 C286.58,234.78 287.10,239.55 287.60,242.10 C288.10,244.65 288.62,248.87 289.10,250.80 C289.58,252.73 289.97,254.30 290.50,253.70 C291.03,253.10 291.65,249.27 292.30,247.20 C292.95,245.13 293.68,241.80 294.40,241.30 C295.12,240.80 295.75,244.68 296.60,244.20 C297.45,243.72 298.65,238.88 299.50,238.40 C300.35,237.92 300.97,240.82 301.70,241.30 C302.43,241.78 303.17,240.45 303.90,241.30 C304.63,242.15 305.42,244.57 306.10,246.40 C306.78,248.23 307.40,252.78 308.00,252.30 C308.60,251.82 309.05,244.48 309.70,243.50 C310.35,242.52 311.17,246.52 311.90,246.40 C312.63,246.28 313.37,243.77 314.10,242.80 C314.83,241.83 315.45,241.70 316.30,240.60 C317.15,239.50 318.35,236.20 319.20,236.20 C320.05,236.20 320.67,239.87 321.40,240.60 C322.13,241.33 322.87,240.12 323.60,240.60 C324.33,241.08 325.07,242.28 325.80,243.50 C326.53,244.72 327.05,247.32 328.00,247.90 C328.95,248.48 330.47,247.00 331.50,247.00 C332.53,247.00 333.35,249.42 334.20,247.90 C335.05,246.38 335.68,240.32 336.60,237.90 C337.52,235.48 338.73,233.85 339.70,233.40 C340.67,232.95 341.50,234.60 342.40,235.20 C343.30,235.80 344.25,235.33 345.10,237.00 C345.95,238.67 346.67,247.33 347.50,245.20 C348.33,243.07 349.37,226.33 350.10,224.20 C350.83,222.07 351.22,230.87 351.90,232.40 C352.58,233.93 353.42,233.23 354.20,233.40 C354.98,233.57 355.83,234.62 356.60,233.40 C357.37,232.18 358.07,227.93 358.80,226.10 C359.53,224.27 360.15,224.83 361.00,222.40 C361.85,219.97 363.05,211.65 363.90,211.50 C364.75,211.35 365.37,218.02 366.10,221.50 C366.83,224.98 367.55,229.37 368.30,232.40 C369.05,235.43 369.82,237.72 370.60,239.70 C371.38,241.68 372.10,244.42 373.00,244.30 C373.90,244.18 375.05,240.48 376.00,239.00 C376.95,237.52 377.82,236.88 378.70,235.40 C379.58,233.92 380.42,233.20 381.30,230.10 C382.18,227.00 383.27,218.87 384.00,216.80 C384.73,214.73 385.20,217.10 385.70,217.70 C386.20,218.30 386.48,220.10 387.00,220.40 C387.52,220.70 388.12,218.47 388.80,219.50 C389.48,220.53 390.28,227.20 391.10,226.60 C391.92,226.00 392.97,218.42 393.70,215.90 C394.43,213.38 394.90,211.20 395.50,211.50 C396.10,211.80 396.77,215.18 397.30,217.70 C397.83,220.22 398.27,224.08 398.70,226.60 C399.13,229.12 399.40,232.07 399.90,232.80 C400.40,233.53 401.20,230.57 401.70,231.00 C402.20,231.43 402.52,233.18 402.90,235.40 C403.28,237.62 403.62,241.35 404.00,244.30 C404.38,247.25 404.70,250.45 405.20,253.10 C405.70,255.75 406.40,258.42 407.00,260.20 C407.60,261.98 408.30,262.97 408.80,263.80 C409.30,264.63 409.80,264.97 410.00,265.20" fill="none" stroke="#f04e23" stroke-width="1.9" stroke-linejoin="round"/>
<path d="M250.00,247.90 C250.43,247.28 251.75,243.35 252.60,244.20 C253.45,245.05 254.20,251.78 255.10,253.00 C256.00,254.22 257.03,252.60 258.00,251.50 C258.97,250.40 260.05,247.12 260.90,246.40 C261.75,245.68 262.37,247.57 263.10,247.20 C263.83,246.83 264.57,244.70 265.30,244.20 C266.03,243.70 266.77,246.25 267.50,244.20 C268.23,242.15 269.02,234.73 269.70,231.90 C270.38,229.07 270.95,227.20 271.60,227.20 C272.25,227.20 272.88,230.77 273.60,231.90 C274.32,233.03 275.17,233.65 275.90,234.00 C276.63,234.35 277.27,233.27 278.00,234.00 C278.73,234.73 279.58,236.57 280.30,238.40 C281.02,240.23 281.65,245.48 282.30,245.00 C282.95,244.52 283.57,239.38 284.20,235.50 C284.83,231.62 285.53,222.55 286.10,221.70 C286.67,220.85 287.10,225.55 287.60,230.40 C288.10,235.25 288.62,246.80 289.10,250.80 C289.58,254.80 289.97,254.88 290.50,254.40 C291.03,253.92 291.65,250.80 292.30,247.90 C292.95,245.00 293.73,238.47 294.40,237.00 C295.07,235.53 295.68,237.17 296.30,239.10 C296.92,241.03 297.43,248.10 298.10,248.60 C298.77,249.10 299.57,243.32 300.30,242.10 C301.03,240.88 301.78,241.07 302.50,241.30 C303.22,241.53 303.88,242.40 304.60,243.50 C305.32,244.60 306.07,247.05 306.80,247.90 C307.53,248.75 308.27,249.08 309.00,248.60 C309.73,248.12 310.47,245.97 311.20,245.00 C311.93,244.03 312.67,242.57 313.40,242.80 C314.13,243.03 314.87,246.17 315.60,246.40 C316.33,246.63 317.08,244.43 317.80,244.20 C318.52,243.97 319.18,244.87 319.90,245.00 C320.62,245.13 321.37,244.77 322.10,245.00 C322.83,245.23 323.65,245.60 324.30,246.40 C324.95,247.20 325.27,250.30 326.00,249.80 C326.73,249.30 327.78,244.32 328.70,243.40 C329.62,242.48 330.67,243.85 331.50,244.30 C332.33,244.75 332.95,246.87 333.70,246.10 C334.45,245.33 335.15,241.52 336.00,239.70 C336.85,237.88 337.88,235.65 338.80,235.20 C339.72,234.75 340.60,236.70 341.50,237.00 C342.40,237.30 343.45,236.23 344.20,237.00 C344.95,237.77 345.38,239.78 346.00,241.60 C346.62,243.42 347.28,249.58 347.90,247.90 C348.52,246.22 349.10,233.32 349.70,231.50 C350.30,229.68 350.83,236.38 351.50,237.00 C352.17,237.62 353.03,234.75 353.70,235.20 C354.37,235.65 354.90,239.55 355.50,239.70 C356.10,239.85 356.60,236.85 357.30,236.10 C358.00,235.35 358.90,235.82 359.70,235.20 C360.50,234.58 361.28,233.62 362.10,232.40 C362.92,231.18 363.78,227.90 364.60,227.90 C365.42,227.90 366.20,230.58 367.00,232.40 C367.80,234.22 368.58,236.82 369.40,238.80 C370.22,240.78 371.08,244.60 371.90,244.30 C372.72,244.00 373.62,238.92 374.30,237.00 C374.98,235.08 375.27,233.80 376.00,232.80 C376.73,231.80 377.82,232.18 378.70,231.00 C379.58,229.82 380.52,227.03 381.30,225.70 C382.08,224.37 382.67,223.30 383.40,223.00 C384.13,222.70 384.93,222.87 385.70,223.90 C386.47,224.93 387.25,227.28 388.00,229.20 C388.75,231.12 389.40,233.18 390.20,235.40 C391.00,237.62 391.98,240.73 392.80,242.50 C393.62,244.27 394.42,244.67 395.10,246.00 C395.78,247.33 396.30,248.72 396.90,250.50 C397.50,252.28 398.05,255.38 398.70,256.70 C399.35,258.02 400.00,257.82 400.80,258.40 C401.60,258.98 402.62,259.45 403.50,260.20 C404.38,260.95 405.37,262.22 406.10,262.90 C406.83,263.58 407.42,263.92 407.90,264.30 C408.38,264.68 408.82,265.05 409.00,265.20" fill="none" stroke="#3b97d9" stroke-width="1.9" stroke-linejoin="round"/>
</g>
<clipPath id="ddb"><rect x="250.20" y="265.25" width="178.50" height="88.85"/></clipPath>
<g clip-path="url(#ddb)">
<path d="M250.00,350.80 C250.30,350.68 251.05,350.98 251.80,350.10 C252.55,349.22 253.55,346.13 254.50,345.50 C255.45,344.87 256.48,346.30 257.50,346.30 C258.52,346.30 259.58,345.50 260.60,345.50 C261.62,345.50 262.73,346.42 263.60,346.30 C264.47,346.18 265.05,345.18 265.80,344.80 C266.55,344.42 267.22,345.00 268.10,344.00 C268.98,343.00 270.22,339.42 271.10,338.80 C271.98,338.18 272.63,339.55 273.40,340.30 C274.17,341.05 274.95,343.68 275.70,343.30 C276.45,342.92 277.15,339.88 277.90,338.00 C278.65,336.12 279.57,333.52 280.20,332.00 C280.83,330.48 281.15,328.90 281.70,328.90 C282.25,328.90 282.87,331.23 283.50,332.00 C284.13,332.77 284.80,333.50 285.50,333.50 C286.20,333.50 286.95,332.63 287.70,332.00 C288.45,331.37 289.28,328.70 290.00,329.70 C290.72,330.70 291.37,336.12 292.00,338.00 C292.63,339.88 293.13,341.00 293.80,341.00 C294.47,341.00 295.25,338.63 296.00,338.00 C296.75,337.37 297.53,337.70 298.30,337.20 C299.07,336.70 299.85,335.37 300.60,335.00 C301.35,334.63 302.05,335.25 302.80,335.00 C303.55,334.75 304.33,333.38 305.10,333.50 C305.87,333.62 306.52,335.70 307.40,335.70 C308.28,335.70 309.53,334.12 310.40,333.50 C311.27,332.88 311.85,331.88 312.60,332.00 C313.35,332.12 314.13,333.83 314.90,334.20 C315.67,334.57 316.50,333.18 317.20,334.20 C317.90,335.22 318.48,340.30 319.10,340.30 C319.72,340.30 320.22,335.83 320.90,334.20 C321.58,332.57 322.43,330.87 323.20,330.50 C323.97,330.13 324.75,331.75 325.50,332.00 C326.25,332.25 326.85,331.92 327.70,332.00 C328.55,332.08 329.67,333.03 330.60,332.50 C331.53,331.97 332.40,329.57 333.30,328.80 C334.20,328.03 335.15,327.28 336.00,327.90 C336.85,328.52 337.63,332.95 338.40,332.50 C339.17,332.05 339.78,327.03 340.60,325.20 C341.42,323.37 342.45,322.42 343.30,321.50 C344.15,320.58 344.93,318.78 345.70,319.70 C346.47,320.62 347.17,326.70 347.90,327.00 C348.63,327.30 349.35,321.80 350.10,321.50 C350.85,321.20 351.62,325.80 352.40,325.20 C353.18,324.60 354.03,319.42 354.80,317.90 C355.57,316.38 356.27,316.55 357.00,316.10 C357.73,315.65 358.45,315.05 359.20,315.20 C359.95,315.35 360.72,317.17 361.50,317.00 C362.28,316.83 363.13,313.30 363.90,314.20 C364.67,315.10 365.37,320.27 366.10,322.40 C366.83,324.53 367.55,327.90 368.30,327.00 C369.05,326.10 369.90,320.03 370.60,317.00 C371.30,313.97 371.88,309.42 372.50,308.80 C373.12,308.18 373.72,312.28 374.30,313.30 C374.88,314.32 375.40,315.10 376.00,314.90 C376.60,314.70 377.27,313.82 377.90,312.10 C378.52,310.38 378.97,306.16 379.75,304.60 C380.53,303.04 381.83,303.31 382.60,302.75 C383.38,302.19 383.78,301.09 384.40,301.25 C385.02,301.41 385.67,302.36 386.30,303.70 C386.93,305.04 387.57,310.08 388.20,309.30 C388.83,308.52 389.57,302.59 390.10,299.00 C390.63,295.41 390.93,287.75 391.40,287.75 C391.87,287.75 392.40,294.00 392.90,299.00 C393.40,304.00 393.84,316.18 394.40,317.75 C394.96,319.32 395.63,310.65 396.25,308.40 C396.87,306.15 397.48,304.57 398.10,304.25 C398.73,303.93 399.47,305.19 400.00,306.50 C400.53,307.81 400.87,308.35 401.30,312.10 C401.73,315.85 402.13,323.68 402.60,329.00 C403.07,334.32 403.60,340.10 404.10,344.00 C404.60,347.90 405.13,350.77 405.60,352.40 C406.07,354.03 406.68,353.57 406.90,353.80 L406.90,356.10 L250.00,356.10 Z" fill="#f5cfdb"/>
<path d="M250.00,346.30 C250.30,346.55 251.17,349.43 251.80,347.80 C252.43,346.17 253.10,338.77 253.80,336.50 C254.50,334.23 255.25,334.33 256.00,334.20 C256.75,334.07 257.53,335.20 258.30,335.70 C259.07,336.20 259.85,336.82 260.60,337.20 C261.35,337.58 262.05,338.00 262.80,338.00 C263.55,338.00 264.42,337.95 265.10,337.20 C265.78,336.45 266.27,333.87 266.90,333.50 C267.53,333.13 268.20,336.88 268.90,335.00 C269.60,333.12 270.35,323.97 271.10,322.20 C271.85,320.43 272.68,323.65 273.40,324.40 C274.12,325.15 274.77,326.70 275.40,326.70 C276.03,326.70 276.60,325.92 277.20,324.40 C277.80,322.88 278.30,319.62 279.00,317.60 C279.70,315.58 280.70,311.92 281.40,312.30 C282.10,312.68 282.60,317.13 283.20,319.90 C283.80,322.67 284.37,328.27 285.00,328.90 C285.63,329.53 286.42,324.32 287.00,323.70 C287.58,323.08 288.00,325.45 288.50,325.20 C289.00,324.95 289.42,320.95 290.00,322.20 C290.58,323.45 291.37,329.93 292.00,332.70 C292.63,335.47 293.13,338.42 293.80,338.80 C294.47,339.18 295.25,335.77 296.00,335.00 C296.75,334.23 297.53,334.95 298.30,334.20 C299.07,333.45 299.90,330.50 300.60,330.50 C301.30,330.50 301.83,333.83 302.50,334.20 C303.17,334.57 303.92,332.45 304.60,332.70 C305.28,332.95 305.93,334.68 306.60,335.70 C307.27,336.72 307.97,339.93 308.60,338.80 C309.23,337.67 309.73,330.03 310.40,328.90 C311.07,327.77 311.90,330.73 312.60,332.00 C313.30,333.27 313.97,337.38 314.60,336.50 C315.23,335.62 315.72,326.70 316.40,326.70 C317.08,326.70 318.00,334.62 318.70,336.50 C319.40,338.38 319.97,338.88 320.60,338.00 C321.23,337.12 321.82,332.20 322.50,331.20 C323.18,330.20 324.12,331.63 324.70,332.00 C325.28,332.37 325.42,333.78 326.00,333.40 C326.58,333.02 327.43,329.55 328.20,329.70 C328.97,329.85 329.82,334.30 330.60,334.30 C331.38,334.30 332.15,330.32 332.90,329.70 C333.65,329.08 334.37,329.83 335.10,330.60 C335.83,331.37 336.53,334.90 337.30,334.30 C338.07,333.70 338.92,328.52 339.70,327.00 C340.48,325.48 341.25,326.12 342.00,325.20 C342.75,324.28 343.37,320.90 344.20,321.50 C345.03,322.10 346.15,328.33 347.00,328.80 C347.85,329.27 348.55,324.30 349.30,324.30 C350.05,324.30 350.77,329.27 351.50,328.80 C352.23,328.33 352.93,323.17 353.70,321.50 C354.47,319.83 355.40,319.55 356.10,318.80 C356.80,318.05 357.30,317.60 357.90,317.00 C358.50,316.40 359.10,314.90 359.70,315.20 C360.30,315.50 360.88,318.65 361.50,318.80 C362.12,318.95 362.78,315.65 363.40,316.10 C364.02,316.55 364.52,319.68 365.20,321.50 C365.88,323.32 366.75,325.32 367.50,327.00 C368.25,328.68 369.02,333.12 369.70,331.60 C370.38,330.08 371.05,321.00 371.60,317.90 C372.15,314.80 372.47,312.40 373.00,313.00 C373.53,313.60 374.30,319.77 374.80,321.50 C375.30,323.23 375.43,323.72 376.00,323.40 C376.57,323.08 377.47,320.70 378.25,319.60 C379.03,318.50 379.82,317.73 380.70,316.80 C381.57,315.87 382.72,313.84 383.50,314.00 C384.28,314.16 384.77,316.65 385.40,317.75 C386.02,318.85 386.63,320.29 387.25,320.60 C387.87,320.91 388.41,318.98 389.10,319.60 C389.79,320.22 390.62,322.57 391.40,324.30 C392.18,326.03 392.99,328.75 393.80,330.00 C394.61,331.25 395.53,331.03 396.25,331.80 C396.97,332.57 397.58,333.67 398.10,334.60 C398.62,335.53 398.87,335.98 399.40,337.40 C399.93,338.82 400.67,341.22 401.30,343.10 C401.93,344.98 402.67,347.23 403.20,348.70 C403.73,350.17 404.03,351.05 404.50,351.90 C404.97,352.75 405.75,353.48 406.00,353.80 L406.00,356.10 L250.00,356.10 Z" fill="#c3dff4"/>
<path d="M250.00,350.80 C250.30,350.68 251.05,350.98 251.80,350.10 C252.55,349.22 253.55,346.13 254.50,345.50 C255.45,344.87 256.48,346.30 257.50,346.30 C258.52,346.30 259.58,345.50 260.60,345.50 C261.62,345.50 262.73,346.42 263.60,346.30 C264.47,346.18 265.05,345.18 265.80,344.80 C266.55,344.42 267.22,345.00 268.10,344.00 C268.98,343.00 270.22,339.42 271.10,338.80 C271.98,338.18 272.63,339.55 273.40,340.30 C274.17,341.05 274.95,343.68 275.70,343.30 C276.45,342.92 277.15,339.88 277.90,338.00 C278.65,336.12 279.57,333.52 280.20,332.00 C280.83,330.48 281.15,328.90 281.70,328.90 C282.25,328.90 282.87,331.23 283.50,332.00 C284.13,332.77 284.80,333.50 285.50,333.50 C286.20,333.50 286.95,332.63 287.70,332.00 C288.45,331.37 289.28,328.70 290.00,329.70 C290.72,330.70 291.37,336.12 292.00,338.00 C292.63,339.88 293.13,341.00 293.80,341.00 C294.47,341.00 295.25,338.63 296.00,338.00 C296.75,337.37 297.53,337.70 298.30,337.20 C299.07,336.70 299.85,335.37 300.60,335.00 C301.35,334.63 302.05,335.25 302.80,335.00 C303.55,334.75 304.33,333.38 305.10,333.50 C305.87,333.62 306.52,335.70 307.40,335.70 C308.28,335.70 309.53,334.12 310.40,333.50 C311.27,332.88 311.85,331.88 312.60,332.00 C313.35,332.12 314.13,333.83 314.90,334.20 C315.67,334.57 316.50,333.18 317.20,334.20 C317.90,335.22 318.48,340.30 319.10,340.30 C319.72,340.30 320.22,335.83 320.90,334.20 C321.58,332.57 322.43,330.87 323.20,330.50 C323.97,330.13 324.75,331.75 325.50,332.00 C326.25,332.25 326.85,331.92 327.70,332.00 C328.55,332.08 329.67,333.03 330.60,332.50 C331.53,331.97 332.40,329.57 333.30,328.80 C334.20,328.03 335.15,327.28 336.00,327.90 C336.85,328.52 337.63,332.95 338.40,332.50 C339.17,332.05 339.78,327.03 340.60,325.20 C341.42,323.37 342.45,322.42 343.30,321.50 C344.15,320.58 344.93,318.78 345.70,319.70 C346.47,320.62 347.17,326.70 347.90,327.00 C348.63,327.30 349.35,321.80 350.10,321.50 C350.85,321.20 351.62,325.80 352.40,325.20 C353.18,324.60 354.03,319.42 354.80,317.90 C355.57,316.38 356.27,316.55 357.00,316.10 C357.73,315.65 358.45,315.05 359.20,315.20 C359.95,315.35 360.72,317.17 361.50,317.00 C362.28,316.83 363.13,313.30 363.90,314.20 C364.67,315.10 365.37,320.27 366.10,322.40 C366.83,324.53 367.55,327.90 368.30,327.00 C369.05,326.10 369.90,320.03 370.60,317.00 C371.30,313.97 371.88,309.42 372.50,308.80 C373.12,308.18 373.72,312.28 374.30,313.30 C374.88,314.32 375.40,315.10 376.00,314.90 C376.60,314.70 377.27,313.82 377.90,312.10 C378.52,310.38 378.97,306.16 379.75,304.60 C380.53,303.04 381.83,303.31 382.60,302.75 C383.38,302.19 383.78,301.09 384.40,301.25 C385.02,301.41 385.67,302.36 386.30,303.70 C386.93,305.04 387.57,310.08 388.20,309.30 C388.83,308.52 389.57,302.59 390.10,299.00 C390.63,295.41 390.93,287.75 391.40,287.75 C391.87,287.75 392.40,294.00 392.90,299.00 C393.40,304.00 393.84,316.18 394.40,317.75 C394.96,319.32 395.63,310.65 396.25,308.40 C396.87,306.15 397.48,304.57 398.10,304.25 C398.73,303.93 399.47,305.19 400.00,306.50 C400.53,307.81 400.87,308.35 401.30,312.10 C401.73,315.85 402.13,323.68 402.60,329.00 C403.07,334.32 403.60,340.10 404.10,344.00 C404.60,347.90 405.13,350.77 405.60,352.40 C406.07,354.03 406.68,353.57 406.90,353.80" fill="none" stroke="#f04e23" stroke-width="1.9" stroke-linejoin="round"/>
<path d="M250.00,346.30 C250.30,346.55 251.17,349.43 251.80,347.80 C252.43,346.17 253.10,338.77 253.80,336.50 C254.50,334.23 255.25,334.33 256.00,334.20 C256.75,334.07 257.53,335.20 258.30,335.70 C259.07,336.20 259.85,336.82 260.60,337.20 C261.35,337.58 262.05,338.00 262.80,338.00 C263.55,338.00 264.42,337.95 265.10,337.20 C265.78,336.45 266.27,333.87 266.90,333.50 C267.53,333.13 268.20,336.88 268.90,335.00 C269.60,333.12 270.35,323.97 271.10,322.20 C271.85,320.43 272.68,323.65 273.40,324.40 C274.12,325.15 274.77,326.70 275.40,326.70 C276.03,326.70 276.60,325.92 277.20,324.40 C277.80,322.88 278.30,319.62 279.00,317.60 C279.70,315.58 280.70,311.92 281.40,312.30 C282.10,312.68 282.60,317.13 283.20,319.90 C283.80,322.67 284.37,328.27 285.00,328.90 C285.63,329.53 286.42,324.32 287.00,323.70 C287.58,323.08 288.00,325.45 288.50,325.20 C289.00,324.95 289.42,320.95 290.00,322.20 C290.58,323.45 291.37,329.93 292.00,332.70 C292.63,335.47 293.13,338.42 293.80,338.80 C294.47,339.18 295.25,335.77 296.00,335.00 C296.75,334.23 297.53,334.95 298.30,334.20 C299.07,333.45 299.90,330.50 300.60,330.50 C301.30,330.50 301.83,333.83 302.50,334.20 C303.17,334.57 303.92,332.45 304.60,332.70 C305.28,332.95 305.93,334.68 306.60,335.70 C307.27,336.72 307.97,339.93 308.60,338.80 C309.23,337.67 309.73,330.03 310.40,328.90 C311.07,327.77 311.90,330.73 312.60,332.00 C313.30,333.27 313.97,337.38 314.60,336.50 C315.23,335.62 315.72,326.70 316.40,326.70 C317.08,326.70 318.00,334.62 318.70,336.50 C319.40,338.38 319.97,338.88 320.60,338.00 C321.23,337.12 321.82,332.20 322.50,331.20 C323.18,330.20 324.12,331.63 324.70,332.00 C325.28,332.37 325.42,333.78 326.00,333.40 C326.58,333.02 327.43,329.55 328.20,329.70 C328.97,329.85 329.82,334.30 330.60,334.30 C331.38,334.30 332.15,330.32 332.90,329.70 C333.65,329.08 334.37,329.83 335.10,330.60 C335.83,331.37 336.53,334.90 337.30,334.30 C338.07,333.70 338.92,328.52 339.70,327.00 C340.48,325.48 341.25,326.12 342.00,325.20 C342.75,324.28 343.37,320.90 344.20,321.50 C345.03,322.10 346.15,328.33 347.00,328.80 C347.85,329.27 348.55,324.30 349.30,324.30 C350.05,324.30 350.77,329.27 351.50,328.80 C352.23,328.33 352.93,323.17 353.70,321.50 C354.47,319.83 355.40,319.55 356.10,318.80 C356.80,318.05 357.30,317.60 357.90,317.00 C358.50,316.40 359.10,314.90 359.70,315.20 C360.30,315.50 360.88,318.65 361.50,318.80 C362.12,318.95 362.78,315.65 363.40,316.10 C364.02,316.55 364.52,319.68 365.20,321.50 C365.88,323.32 366.75,325.32 367.50,327.00 C368.25,328.68 369.02,333.12 369.70,331.60 C370.38,330.08 371.05,321.00 371.60,317.90 C372.15,314.80 372.47,312.40 373.00,313.00 C373.53,313.60 374.30,319.77 374.80,321.50 C375.30,323.23 375.43,323.72 376.00,323.40 C376.57,323.08 377.47,320.70 378.25,319.60 C379.03,318.50 379.82,317.73 380.70,316.80 C381.57,315.87 382.72,313.84 383.50,314.00 C384.28,314.16 384.77,316.65 385.40,317.75 C386.02,318.85 386.63,320.29 387.25,320.60 C387.87,320.91 388.41,318.98 389.10,319.60 C389.79,320.22 390.62,322.57 391.40,324.30 C392.18,326.03 392.99,328.75 393.80,330.00 C394.61,331.25 395.53,331.03 396.25,331.80 C396.97,332.57 397.58,333.67 398.10,334.60 C398.62,335.53 398.87,335.98 399.40,337.40 C399.93,338.82 400.67,341.22 401.30,343.10 C401.93,344.98 402.67,347.23 403.20,348.70 C403.73,350.17 404.03,351.05 404.50,351.90 C404.97,352.75 405.75,353.48 406.00,353.80" fill="none" stroke="#3b97d9" stroke-width="1.9" stroke-linejoin="round"/>
</g>
<line x1="398.95" y1="176.75" x2="398.95" y2="354.10" stroke="#215b92" stroke-width="1.25" stroke-dasharray="4.3 2.0" stroke-dashoffset="4.7"/>
<rect x="250.20" y="176.75" width="178.50" height="177.35" fill="none" stroke="#555555" stroke-width="1.2"/>
<line x1="250.20" y1="265.25" x2="428.70" y2="265.25" stroke="#333" stroke-width="1.2"/>
<line x1="250.20" y1="354.10" x2="428.70" y2="354.10" stroke="#333" stroke-width="1.2"/>
<line x1="279.95" y1="353.50" x2="279.95" y2="351.10" stroke="#333" stroke-width="0.9"/>
<line x1="279.95" y1="264.65" x2="279.95" y2="262.25" stroke="#333" stroke-width="0.9"/>
<text x="280.15" y="365.80" font-size="10.6" text-anchor="middle" fill="#1a1a1a" textLength="15.00" lengthAdjust="spacingAndGlyphs" stroke="#1a1a1a" stroke-width="0.08">−4</text>
<line x1="339.45" y1="353.50" x2="339.45" y2="351.10" stroke="#333" stroke-width="0.9"/>
<line x1="339.45" y1="264.65" x2="339.45" y2="262.25" stroke="#333" stroke-width="0.9"/>
<text x="339.65" y="365.80" font-size="10.6" text-anchor="middle" fill="#1a1a1a" textLength="15.00" lengthAdjust="spacingAndGlyphs" stroke="#1a1a1a" stroke-width="0.08">−2</text>
<line x1="398.95" y1="353.50" x2="398.95" y2="351.10" stroke="#333" stroke-width="0.9"/>
<line x1="398.95" y1="264.65" x2="398.95" y2="262.25" stroke="#333" stroke-width="0.9"/>
<text x="398.95" y="365.80" font-size="10.6" text-anchor="middle" fill="#1a1a1a" textLength="6.50" lengthAdjust="spacingAndGlyphs" stroke="#1a1a1a" stroke-width="0.08">0</text>
<text x="246.90" y="269.85" font-size="10.8" text-anchor="end" fill="#1a1a1a" textLength="6.50" lengthAdjust="spacingAndGlyphs" stroke="#1a1a1a" stroke-width="0.09">0</text>
<line x1="250.80" y1="229.81" x2="253.20" y2="229.81" stroke="#333" stroke-width="0.9"/>
<text x="246.90" y="234.41" font-size="10.8" text-anchor="end" fill="#1a1a1a" textLength="6.50" lengthAdjust="spacingAndGlyphs" stroke="#1a1a1a" stroke-width="0.09">4</text>
<line x1="250.80" y1="194.37" x2="253.20" y2="194.37" stroke="#333" stroke-width="0.9"/>
<text x="246.90" y="198.97" font-size="10.8" text-anchor="end" fill="#1a1a1a" textLength="6.50" lengthAdjust="spacingAndGlyphs" stroke="#1a1a1a" stroke-width="0.09">8</text>
<text x="246.90" y="358.70" font-size="10.8" text-anchor="end" fill="#1a1a1a" textLength="6.50" lengthAdjust="spacingAndGlyphs" stroke="#1a1a1a" stroke-width="0.09">0</text>
<line x1="250.80" y1="318.66" x2="253.20" y2="318.66" stroke="#333" stroke-width="0.9"/>
<text x="246.90" y="323.26" font-size="10.8" text-anchor="end" fill="#1a1a1a" textLength="6.50" lengthAdjust="spacingAndGlyphs" stroke="#1a1a1a" stroke-width="0.09">4</text>
<line x1="250.80" y1="283.22" x2="253.20" y2="283.22" stroke="#333" stroke-width="0.9"/>
<text x="246.90" y="287.82" font-size="10.8" text-anchor="end" fill="#1a1a1a" textLength="6.50" lengthAdjust="spacingAndGlyphs" stroke="#1a1a1a" stroke-width="0.09">8</text>
<text x="229.10" y="325.30" font-size="11.2" text-anchor="start" fill="#1a1a1a" textLength="86.40" lengthAdjust="spacingAndGlyphs" transform="rotate(-90 229.10 325.30)" stroke="#1a1a1a" stroke-width="0.11">DOS(States/eV)</text>
<text x="315.65" y="379.60" font-size="10.6" text-anchor="start" fill="#1a1a1a" textLength="16.40" lengthAdjust="spacingAndGlyphs" stroke="#1a1a1a" stroke-width="0.08">E-E</text>
<text x="332.25" y="381.60" font-size="7.6" text-anchor="start" fill="#1a1a1a" textLength="5.00" lengthAdjust="spacingAndGlyphs" font-style="italic">F</text>
<text x="342.15" y="379.60" font-size="10.6" text-anchor="start" fill="#1a1a1a" textLength="21.00" lengthAdjust="spacingAndGlyphs" stroke="#1a1a1a" stroke-width="0.08">(eV)</text>
<text x="218.50" y="178.30" font-size="12.0" text-anchor="start" fill="#1a1a1a" stroke="#1a1a1a" stroke-width="0.14">d</text>
<rect x="253.70" y="180.5" width="40.6" height="25.9" rx="1.5" fill="#fff" fill-opacity="0.8" stroke="#dcdcdc" stroke-width="0.8"/>
<line x1="255.95" y1="187.25" x2="273.45" y2="187.25" stroke="#f04e23" stroke-width="1.9"/>
<line x1="255.95" y1="198.60" x2="273.45" y2="198.60" stroke="#3b97d9" stroke-width="1.9"/>
<text x="279.35" y="190.20" font-size="8.4" text-anchor="start" fill="#222" textLength="5.70" lengthAdjust="spacingAndGlyphs">O</text>
<rect x="285.65" y="187.50" width="4.20" height="3.70" fill="#b0b0b0"/>
<g fill="#555" opacity="1.0">
<rect x="285.65" y="187.50" width="4.20" height="0.60"/>
<rect x="285.65" y="190.60" width="4.20" height="0.60"/>
<rect x="285.80" y="187.50" width="0.70" height="3.70"/>
<rect x="287.40" y="187.50" width="0.70" height="3.70"/>
<rect x="289.00" y="187.50" width="0.70" height="3.70"/>
</g>
<text x="279.35" y="202.00" font-size="8.4" text-anchor="start" fill="#222" textLength="5.70" lengthAdjust="spacingAndGlyphs">O</text>
<g fill="#444" stroke="none" opacity="1.0">
<rect x="285.95" y="198.80" width="0.70" height="3.90"/>
<rect x="285.65" y="202.10" width="1.30" height="0.6"/>
<path d="M287.15,198.80 L289.00,202.70 L290.85,198.80" fill="none" stroke="#444" stroke-width="0.70"/>
</g>
<text x="320.20" y="208.10" font-size="8.6" text-anchor="start" fill="#111" textLength="35.00" lengthAdjust="spacingAndGlyphs" font-weight="bold">O-Phase</text>
<text x="320.20" y="299.20" font-size="8.6" text-anchor="start" fill="#111" textLength="35.60" lengthAdjust="spacingAndGlyphs" font-weight="bold">M-Phase</text>
<polyline points="497.50,265.40 503.35,268.63 509.20,271.49 515.05,274.01 520.90,276.74 526.75,279.51 532.60,281.99 538.45,284.80 544.30,286.90 550.15,289.34 556.00,291.86 561.85,294.38 567.70,296.40 573.55,297.32 579.40,297.78 585.25,298.71 591.10,299.00 596.95,299.21 602.80,299.59 608.65,299.88 614.50,300.26 620.35,302.49 626.20,306.01 632.05,308.87 637.90,313.70 643.75,318.11 649.60,320.59 655.45,322.18 661.30,324.70 667.15,326.59 673.00,328.61" fill="none" stroke="#f07b55" stroke-width="1.2"/>
<circle cx="497.50" cy="265.40" r="3.0" fill="#f07b55"/>
<circle cx="503.35" cy="268.63" r="3.0" fill="#f07b55"/>
<circle cx="509.20" cy="271.49" r="3.0" fill="#f07b55"/>
<circle cx="515.05" cy="274.01" r="3.0" fill="#f07b55"/>
<circle cx="520.90" cy="276.74" r="3.0" fill="#f07b55"/>
<circle cx="526.75" cy="279.51" r="3.0" fill="#f07b55"/>
<circle cx="532.60" cy="281.99" r="3.0" fill="#f07b55"/>
<circle cx="538.45" cy="284.80" r="3.0" fill="#f07b55"/>
<circle cx="544.30" cy="286.90" r="3.0" fill="#f07b55"/>
<circle cx="550.15" cy="289.34" r="3.0" fill="#f07b55"/>
<circle cx="556.00" cy="291.86" r="3.0" fill="#f07b55"/>
<circle cx="561.85" cy="294.38" r="3.0" fill="#f07b55"/>
<circle cx="567.70" cy="296.40" r="3.0" fill="#f07b55"/>
<circle cx="573.55" cy="297.32" r="3.0" fill="#f07b55"/>
<circle cx="579.40" cy="297.78" r="3.0" fill="#f07b55"/>
<circle cx="585.25" cy="298.71" r="3.0" fill="#f07b55"/>
<circle cx="591.10" cy="299.00" r="3.0" fill="#f07b55"/>
<circle cx="596.95" cy="299.21" r="3.0" fill="#f07b55"/>
<circle cx="602.80" cy="299.59" r="3.0" fill="#f07b55"/>
<circle cx="608.65" cy="299.88" r="3.0" fill="#f07b55"/>
<circle cx="614.50" cy="300.26" r="3.0" fill="#f07b55"/>
<circle cx="620.35" cy="302.49" r="3.0" fill="#f07b55"/>
<circle cx="626.20" cy="306.01" r="3.0" fill="#f07b55"/>
<circle cx="632.05" cy="308.87" r="3.0" fill="#f07b55"/>
<circle cx="637.90" cy="313.70" r="3.0" fill="#f07b55"/>
<circle cx="643.75" cy="318.11" r="3.0" fill="#f07b55"/>
<circle cx="649.60" cy="320.59" r="3.0" fill="#f07b55"/>
<circle cx="655.45" cy="322.18" r="3.0" fill="#f07b55"/>
<circle cx="661.30" cy="324.70" r="3.0" fill="#f07b55"/>
<circle cx="667.15" cy="326.59" r="3.0" fill="#f07b55"/>
<circle cx="673.00" cy="328.61" r="3.0" fill="#f07b55"/>
<polyline points="497.50,265.40 503.35,263.72 509.20,262.46 515.05,261.62 520.90,259.90 526.75,259.02 532.60,258.13 538.45,257.42 544.30,256.58 550.15,255.91 556.00,254.90 561.85,254.48 567.70,254.06 573.55,253.64 579.40,251.96 585.25,250.70 591.10,249.69 596.95,248.60 602.80,247.21 608.65,246.29 614.50,244.90 620.35,240.70 626.20,237.68 632.05,234.49 637.90,230.29 643.75,226.59 649.60,222.01 655.45,219.20 661.30,215.42 667.15,213.11 673.00,209.96" fill="none" stroke="#e36b47" stroke-width="1.2"/>
<circle cx="497.50" cy="265.40" r="3.0" fill="#e36b47"/>
<circle cx="503.35" cy="263.72" r="3.0" fill="#e36b47"/>
<circle cx="509.20" cy="262.46" r="3.0" fill="#e36b47"/>
<circle cx="515.05" cy="261.62" r="3.0" fill="#e36b47"/>
<circle cx="520.90" cy="259.90" r="3.0" fill="#e36b47"/>
<circle cx="526.75" cy="259.02" r="3.0" fill="#e36b47"/>
<circle cx="532.60" cy="258.13" r="3.0" fill="#e36b47"/>
<circle cx="538.45" cy="257.42" r="3.0" fill="#e36b47"/>
<circle cx="544.30" cy="256.58" r="3.0" fill="#e36b47"/>
<circle cx="550.15" cy="255.91" r="3.0" fill="#e36b47"/>
<circle cx="556.00" cy="254.90" r="3.0" fill="#e36b47"/>
<circle cx="561.85" cy="254.48" r="3.0" fill="#e36b47"/>
<circle cx="567.70" cy="254.06" r="3.0" fill="#e36b47"/>
<circle cx="573.55" cy="253.64" r="3.0" fill="#e36b47"/>
<circle cx="579.40" cy="251.96" r="3.0" fill="#e36b47"/>
<circle cx="585.25" cy="250.70" r="3.0" fill="#e36b47"/>
<circle cx="591.10" cy="249.69" r="3.0" fill="#e36b47"/>
<circle cx="596.95" cy="248.60" r="3.0" fill="#e36b47"/>
<circle cx="602.80" cy="247.21" r="3.0" fill="#e36b47"/>
<circle cx="608.65" cy="246.29" r="3.0" fill="#e36b47"/>
<circle cx="614.50" cy="244.90" r="3.0" fill="#e36b47"/>
<circle cx="620.35" cy="240.70" r="3.0" fill="#e36b47"/>
<circle cx="626.20" cy="237.68" r="3.0" fill="#e36b47"/>
<circle cx="632.05" cy="234.49" r="3.0" fill="#e36b47"/>
<circle cx="637.90" cy="230.29" r="3.0" fill="#e36b47"/>
<circle cx="643.75" cy="226.59" r="3.0" fill="#e36b47"/>
<circle cx="649.60" cy="222.01" r="3.0" fill="#e36b47"/>
<circle cx="655.45" cy="219.20" r="3.0" fill="#e36b47"/>
<circle cx="661.30" cy="215.42" r="3.0" fill="#e36b47"/>
<circle cx="667.15" cy="213.11" r="3.0" fill="#e36b47"/>
<circle cx="673.00" cy="209.96" r="3.0" fill="#e36b47"/>
<polyline points="497.50,265.40 503.35,268.76 509.20,271.70 515.05,274.43 520.90,278.00 526.75,281.36 532.60,284.51 538.45,287.45 544.30,290.39 550.15,293.33 556.00,296.98 561.85,299.21 567.70,301.02 573.55,302.40 579.40,304.29 585.25,306.18 591.10,306.60 596.95,306.18 602.80,306.60 608.65,307.40 614.50,308.79 620.35,309.50 626.20,310.34 632.05,311.18 637.90,311.60 643.75,313.07 649.60,314.54 655.45,315.80 661.30,317.31 667.15,320.42 673.00,322.10" fill="none" stroke="#69b5f0" stroke-width="1.2"/>
<circle cx="497.50" cy="265.40" r="3.0" fill="#69b5f0"/>
<circle cx="503.35" cy="268.76" r="3.0" fill="#69b5f0"/>
<circle cx="509.20" cy="271.70" r="3.0" fill="#69b5f0"/>
<circle cx="515.05" cy="274.43" r="3.0" fill="#69b5f0"/>
<circle cx="520.90" cy="278.00" r="3.0" fill="#69b5f0"/>
<circle cx="526.75" cy="281.36" r="3.0" fill="#69b5f0"/>
<circle cx="532.60" cy="284.51" r="3.0" fill="#69b5f0"/>
<circle cx="538.45" cy="287.45" r="3.0" fill="#69b5f0"/>
<circle cx="544.30" cy="290.39" r="3.0" fill="#69b5f0"/>
<circle cx="550.15" cy="293.33" r="3.0" fill="#69b5f0"/>
<circle cx="556.00" cy="296.98" r="3.0" fill="#69b5f0"/>
<circle cx="561.85" cy="299.21" r="3.0" fill="#69b5f0"/>
<circle cx="567.70" cy="301.02" r="3.0" fill="#69b5f0"/>
<circle cx="573.55" cy="302.40" r="3.0" fill="#69b5f0"/>
<circle cx="579.40" cy="304.29" r="3.0" fill="#69b5f0"/>
<circle cx="585.25" cy="306.18" r="3.0" fill="#69b5f0"/>
<circle cx="591.10" cy="306.60" r="3.0" fill="#69b5f0"/>
<circle cx="596.95" cy="306.18" r="3.0" fill="#69b5f0"/>
<circle cx="602.80" cy="306.60" r="3.0" fill="#69b5f0"/>
<circle cx="608.65" cy="307.40" r="3.0" fill="#69b5f0"/>
<circle cx="614.50" cy="308.79" r="3.0" fill="#69b5f0"/>
<circle cx="620.35" cy="309.50" r="3.0" fill="#69b5f0"/>
<circle cx="626.20" cy="310.34" r="3.0" fill="#69b5f0"/>
<circle cx="632.05" cy="311.18" r="3.0" fill="#69b5f0"/>
<circle cx="637.90" cy="311.60" r="3.0" fill="#69b5f0"/>
<circle cx="643.75" cy="313.07" r="3.0" fill="#69b5f0"/>
<circle cx="649.60" cy="314.54" r="3.0" fill="#69b5f0"/>
<circle cx="655.45" cy="315.80" r="3.0" fill="#69b5f0"/>
<circle cx="661.30" cy="317.31" r="3.0" fill="#69b5f0"/>
<circle cx="667.15" cy="320.42" r="3.0" fill="#69b5f0"/>
<circle cx="673.00" cy="322.10" r="3.0" fill="#69b5f0"/>
<polyline points="497.50,265.40 503.35,261.91 509.20,259.39 515.05,257.42 520.90,254.90 526.75,252.13 532.60,251.92 538.45,251.50 544.30,250.91 550.15,250.07 556.00,249.65 561.85,249.44 567.70,249.23 573.55,249.02 579.40,248.60 585.25,248.18 591.10,247.55 596.95,246.29 602.80,245.66 608.65,244.40 614.50,242.38 620.35,238.52 626.20,234.32 632.05,230.54 637.90,226.76 643.75,223.82 649.60,220.04 655.45,216.26 661.30,212.90 667.15,209.54 673.00,205.59" fill="none" stroke="#3e8fe0" stroke-width="1.2"/>
<circle cx="497.50" cy="265.40" r="3.0" fill="#3e8fe0"/>
<circle cx="503.35" cy="261.91" r="3.0" fill="#3e8fe0"/>
<circle cx="509.20" cy="259.39" r="3.0" fill="#3e8fe0"/>
<circle cx="515.05" cy="257.42" r="3.0" fill="#3e8fe0"/>
<circle cx="520.90" cy="254.90" r="3.0" fill="#3e8fe0"/>
<circle cx="526.75" cy="252.13" r="3.0" fill="#3e8fe0"/>
<circle cx="532.60" cy="251.92" r="3.0" fill="#3e8fe0"/>
<circle cx="538.45" cy="251.50" r="3.0" fill="#3e8fe0"/>
<circle cx="544.30" cy="250.91" r="3.0" fill="#3e8fe0"/>
<circle cx="550.15" cy="250.07" r="3.0" fill="#3e8fe0"/>
<circle cx="556.00" cy="249.65" r="3.0" fill="#3e8fe0"/>
<circle cx="561.85" cy="249.44" r="3.0" fill="#3e8fe0"/>
<circle cx="567.70" cy="249.23" r="3.0" fill="#3e8fe0"/>
<circle cx="573.55" cy="249.02" r="3.0" fill="#3e8fe0"/>
<circle cx="579.40" cy="248.60" r="3.0" fill="#3e8fe0"/>
<circle cx="585.25" cy="248.18" r="3.0" fill="#3e8fe0"/>
<circle cx="591.10" cy="247.55" r="3.0" fill="#3e8fe0"/>
<circle cx="596.95" cy="246.29" r="3.0" fill="#3e8fe0"/>
<circle cx="602.80" cy="245.66" r="3.0" fill="#3e8fe0"/>
<circle cx="608.65" cy="244.40" r="3.0" fill="#3e8fe0"/>
<circle cx="614.50" cy="242.38" r="3.0" fill="#3e8fe0"/>
<circle cx="620.35" cy="238.52" r="3.0" fill="#3e8fe0"/>
<circle cx="626.20" cy="234.32" r="3.0" fill="#3e8fe0"/>
<circle cx="632.05" cy="230.54" r="3.0" fill="#3e8fe0"/>
<circle cx="637.90" cy="226.76" r="3.0" fill="#3e8fe0"/>
<circle cx="643.75" cy="223.82" r="3.0" fill="#3e8fe0"/>
<circle cx="649.60" cy="220.04" r="3.0" fill="#3e8fe0"/>
<circle cx="655.45" cy="216.26" r="3.0" fill="#3e8fe0"/>
<circle cx="661.30" cy="212.90" r="3.0" fill="#3e8fe0"/>
<circle cx="667.15" cy="209.54" r="3.0" fill="#3e8fe0"/>
<circle cx="673.00" cy="205.59" r="3.0" fill="#3e8fe0"/>
<polyline points="497.50,265.40 503.35,268.63 509.20,271.49 515.05,274.01 520.90,276.74 526.75,279.51 532.60,281.99 538.45,284.80 544.30,286.90 550.15,289.34 556.00,291.86 561.85,294.80 567.70,297.32 573.55,297.32 579.40,300.09 585.25,301.98 591.10,302.40 596.95,299.25 602.80,300.01 608.65,300.68 614.50,301.90 620.35,307.40 626.20,308.79 632.05,313.28 637.90,314.79 643.75,315.80 649.60,317.31 655.45,318.74 661.30,320.00 667.15,321.39 673.00,322.81" fill="none" stroke="#a7dc7c" stroke-width="1.2"/>
<circle cx="497.50" cy="265.40" r="3.0" fill="#a7dc7c"/>
<circle cx="503.35" cy="268.63" r="3.0" fill="#a7dc7c"/>
<circle cx="509.20" cy="271.49" r="3.0" fill="#a7dc7c"/>
<circle cx="515.05" cy="274.01" r="3.0" fill="#a7dc7c"/>
<circle cx="520.90" cy="276.74" r="3.0" fill="#a7dc7c"/>
<circle cx="526.75" cy="279.51" r="3.0" fill="#a7dc7c"/>
<circle cx="532.60" cy="281.99" r="3.0" fill="#a7dc7c"/>
<circle cx="538.45" cy="284.80" r="3.0" fill="#a7dc7c"/>
<circle cx="544.30" cy="286.90" r="3.0" fill="#a7dc7c"/>
<circle cx="550.15" cy="289.34" r="3.0" fill="#a7dc7c"/>
<circle cx="556.00" cy="291.86" r="3.0" fill="#a7dc7c"/>
<circle cx="561.85" cy="294.80" r="3.0" fill="#a7dc7c"/>
<circle cx="567.70" cy="297.32" r="3.0" fill="#a7dc7c"/>
<circle cx="573.55" cy="297.32" r="3.0" fill="#a7dc7c"/>
<circle cx="579.40" cy="300.09" r="3.0" fill="#a7dc7c"/>
<circle cx="585.25" cy="301.98" r="3.0" fill="#a7dc7c"/>
<circle cx="591.10" cy="302.40" r="3.0" fill="#a7dc7c"/>
<circle cx="596.95" cy="299.25" r="3.0" fill="#a7dc7c"/>
<circle cx="602.80" cy="300.01" r="3.0" fill="#a7dc7c"/>
<circle cx="608.65" cy="300.68" r="3.0" fill="#a7dc7c"/>
<circle cx="614.50" cy="301.90" r="3.0" fill="#a7dc7c"/>
<circle cx="620.35" cy="307.40" r="3.0" fill="#a7dc7c"/>
<circle cx="626.20" cy="308.79" r="3.0" fill="#a7dc7c"/>
<circle cx="632.05" cy="313.28" r="3.0" fill="#a7dc7c"/>
<circle cx="637.90" cy="314.79" r="3.0" fill="#a7dc7c"/>
<circle cx="643.75" cy="315.80" r="3.0" fill="#a7dc7c"/>
<circle cx="649.60" cy="317.31" r="3.0" fill="#a7dc7c"/>
<circle cx="655.45" cy="318.74" r="3.0" fill="#a7dc7c"/>
<circle cx="661.30" cy="320.00" r="3.0" fill="#a7dc7c"/>
<circle cx="667.15" cy="321.39" r="3.0" fill="#a7dc7c"/>
<circle cx="673.00" cy="322.81" r="3.0" fill="#a7dc7c"/>
<polyline points="497.50,265.40 503.35,264.01 509.20,262.80 515.05,262.42 520.90,261.91 526.75,260.91 532.60,259.39 538.45,258.13 544.30,256.50 550.15,254.90 556.00,253.39 561.85,253.01 567.70,252.80 573.55,252.59 579.40,250.49 585.25,249.69 591.10,249.10 596.95,248.18 602.80,246.71 608.65,246.29 614.50,244.90 620.35,240.70 626.20,236.84 632.05,232.81 637.90,228.19 643.75,224.49 649.60,221.59 655.45,219.20 661.30,215.42 667.15,213.11 673.00,209.96" fill="none" stroke="#72be3e" stroke-width="1.2"/>
<circle cx="497.50" cy="265.40" r="3.0" fill="#72be3e"/>
<circle cx="503.35" cy="264.01" r="3.0" fill="#72be3e"/>
<circle cx="509.20" cy="262.80" r="3.0" fill="#72be3e"/>
<circle cx="515.05" cy="262.42" r="3.0" fill="#72be3e"/>
<circle cx="520.90" cy="261.91" r="3.0" fill="#72be3e"/>
<circle cx="526.75" cy="260.91" r="3.0" fill="#72be3e"/>
<circle cx="532.60" cy="259.39" r="3.0" fill="#72be3e"/>
<circle cx="538.45" cy="258.13" r="3.0" fill="#72be3e"/>
<circle cx="544.30" cy="256.50" r="3.0" fill="#72be3e"/>
<circle cx="550.15" cy="254.90" r="3.0" fill="#72be3e"/>
<circle cx="556.00" cy="253.39" r="3.0" fill="#72be3e"/>
<circle cx="561.85" cy="253.01" r="3.0" fill="#72be3e"/>
<circle cx="567.70" cy="252.80" r="3.0" fill="#72be3e"/>
<circle cx="573.55" cy="252.59" r="3.0" fill="#72be3e"/>
<circle cx="579.40" cy="250.49" r="3.0" fill="#72be3e"/>
<circle cx="585.25" cy="249.69" r="3.0" fill="#72be3e"/>
<circle cx="591.10" cy="249.10" r="3.0" fill="#72be3e"/>
<circle cx="596.95" cy="248.18" r="3.0" fill="#72be3e"/>
<circle cx="602.80" cy="246.71" r="3.0" fill="#72be3e"/>
<circle cx="608.65" cy="246.29" r="3.0" fill="#72be3e"/>
<circle cx="614.50" cy="244.90" r="3.0" fill="#72be3e"/>
<circle cx="620.35" cy="240.70" r="3.0" fill="#72be3e"/>
<circle cx="626.20" cy="236.84" r="3.0" fill="#72be3e"/>
<circle cx="632.05" cy="232.81" r="3.0" fill="#72be3e"/>
<circle cx="637.90" cy="228.19" r="3.0" fill="#72be3e"/>
<circle cx="643.75" cy="224.49" r="3.0" fill="#72be3e"/>
<circle cx="649.60" cy="221.59" r="3.0" fill="#72be3e"/>
<circle cx="655.45" cy="219.20" r="3.0" fill="#72be3e"/>
<circle cx="661.30" cy="215.42" r="3.0" fill="#72be3e"/>
<circle cx="667.15" cy="213.11" r="3.0" fill="#72be3e"/>
<circle cx="673.00" cy="209.96" r="3.0" fill="#72be3e"/>
<line x1="489.50" y1="265.40" x2="681.60" y2="265.40" stroke="#52879b" stroke-width="1.0" stroke-dasharray="2.8 1.2"/>
<rect x="489.50" y="181.40" width="192.10" height="168.00" fill="none" stroke="#262626" stroke-width="1.15"/>
<line x1="497.50" y1="350.00" x2="497.50" y2="351.80" stroke="#333" stroke-width="0.8"/>
<text x="497.50" y="363.70" font-size="13.7" text-anchor="middle" fill="#1a1a1a" textLength="20.70" lengthAdjust="spacingAndGlyphs" stroke="#1a1a1a" stroke-width="0.21">0.0</text>
<line x1="556.00" y1="350.00" x2="556.00" y2="351.80" stroke="#333" stroke-width="0.8"/>
<text x="556.00" y="363.70" font-size="13.7" text-anchor="middle" fill="#1a1a1a" textLength="20.70" lengthAdjust="spacingAndGlyphs" stroke="#1a1a1a" stroke-width="0.21">0.1</text>
<line x1="614.50" y1="350.00" x2="614.50" y2="351.80" stroke="#333" stroke-width="0.8"/>
<text x="614.50" y="363.70" font-size="13.7" text-anchor="middle" fill="#1a1a1a" textLength="20.70" lengthAdjust="spacingAndGlyphs" stroke="#1a1a1a" stroke-width="0.21">0.2</text>
<line x1="673.00" y1="350.00" x2="673.00" y2="351.80" stroke="#333" stroke-width="0.8"/>
<text x="673.00" y="363.70" font-size="13.7" text-anchor="middle" fill="#1a1a1a" textLength="20.70" lengthAdjust="spacingAndGlyphs" stroke="#1a1a1a" stroke-width="0.21">0.3</text>
<line x1="488.90" y1="181.40" x2="487.10" y2="181.40" stroke="#333" stroke-width="0.8"/>
<text x="484.30" y="186.80" font-size="13.7" text-anchor="end" fill="#1a1a1a" textLength="20.70" lengthAdjust="spacingAndGlyphs" stroke="#1a1a1a" stroke-width="0.21">0.2</text>
<line x1="488.90" y1="223.40" x2="487.10" y2="223.40" stroke="#333" stroke-width="0.8"/>
<text x="484.30" y="228.80" font-size="13.7" text-anchor="end" fill="#1a1a1a" textLength="20.70" lengthAdjust="spacingAndGlyphs" stroke="#1a1a1a" stroke-width="0.21">0.1</text>
<line x1="488.90" y1="265.40" x2="487.10" y2="265.40" stroke="#333" stroke-width="0.8"/>
<text x="484.30" y="270.80" font-size="13.7" text-anchor="end" fill="#1a1a1a" textLength="20.70" lengthAdjust="spacingAndGlyphs" stroke="#1a1a1a" stroke-width="0.21">0.0</text>
<line x1="488.90" y1="307.40" x2="487.10" y2="307.40" stroke="#333" stroke-width="0.8"/>
<text x="484.30" y="312.80" font-size="13.7" text-anchor="end" fill="#1a1a1a" textLength="31.60" lengthAdjust="spacingAndGlyphs" stroke="#1a1a1a" stroke-width="0.21">−0.1</text>
<line x1="488.90" y1="349.40" x2="487.10" y2="349.40" stroke="#333" stroke-width="0.8"/>
<text x="484.30" y="354.80" font-size="13.7" text-anchor="end" fill="#1a1a1a" textLength="31.60" lengthAdjust="spacingAndGlyphs" stroke="#1a1a1a" stroke-width="0.21">−0.2</text>
<text x="517.30" y="379.60" font-size="14.2" text-anchor="start" fill="#1a1a1a" textLength="136.80" lengthAdjust="spacingAndGlyphs" stroke="#1a1a1a" stroke-width="0.23">Hole Density(h/f.u.)</text>
<text x="448.20" y="302.50" font-size="14.6" text-anchor="start" fill="#1a1a1a" textLength="71.00" lengthAdjust="spacingAndGlyphs" transform="rotate(-90 448.20 302.50)" stroke="#1a1a1a" stroke-width="0.24">Es(eV/f.u.)</text>
<text x="435.50" y="178.10" font-size="12.0" text-anchor="start" fill="#1a1a1a" stroke="#1a1a1a" stroke-width="0.14">e</text>
<rect x="493.75" y="186.6" width="88.65" height="41.8" rx="1.5" fill="#fff" fill-opacity="0.8" stroke="#dcdcdc" stroke-width="0.8"/>
<line x1="497.10" y1="193.50" x2="516.30" y2="193.50" stroke="#f07b55" stroke-width="1.2"/>
<circle cx="506.5" cy="193.5" r="3.3" fill="#f07b55"/>
<line x1="497.10" y1="206.60" x2="516.30" y2="206.60" stroke="#69b5f0" stroke-width="1.2"/>
<circle cx="506.5" cy="206.6" r="3.3" fill="#69b5f0"/>
<line x1="497.10" y1="219.75" x2="516.30" y2="219.75" stroke="#a7dc7c" stroke-width="1.2"/>
<circle cx="506.5" cy="219.75" r="3.3" fill="#a7dc7c"/>
<text x="523.40" y="196.90" font-size="9.6" text-anchor="start" fill="#222" textLength="27.60" lengthAdjust="spacingAndGlyphs" stroke="#222" stroke-width="0.04">0.00%</text>
<text x="523.40" y="210.00" font-size="9.6" text-anchor="start" fill="#222" textLength="13.30" lengthAdjust="spacingAndGlyphs" stroke="#222" stroke-width="0.04">VO</text>
<rect x="537.10" y="207.20" width="3.90" height="4.30" fill="#a0a0a0"/>
<g fill="#555" opacity="1.0">
<rect x="537.10" y="207.20" width="3.90" height="0.60"/>
<rect x="537.10" y="210.90" width="3.90" height="0.60"/>
<rect x="537.25" y="207.20" width="0.80" height="4.30"/>
<rect x="538.65" y="207.20" width="0.80" height="4.30"/>
<rect x="540.05" y="207.20" width="0.80" height="4.30"/>
</g>
<text x="541.60" y="210.00" font-size="9.6" text-anchor="start" fill="#222" textLength="35.60" lengthAdjust="spacingAndGlyphs" stroke="#222" stroke-width="0.04">=1.04%</text>
<text x="523.40" y="223.20" font-size="9.6" text-anchor="start" fill="#222" textLength="13.30" lengthAdjust="spacingAndGlyphs" stroke="#222" stroke-width="0.04">VO</text>
<g fill="#444" stroke="none" opacity="1.0">
<rect x="537.40" y="219.60" width="0.75" height="4.60"/>
<rect x="537.10" y="223.60" width="1.35" height="0.6"/>
<path d="M538.65,219.60 L540.27,224.20 L541.90,219.60" fill="none" stroke="#444" stroke-width="0.75"/>
</g>
<text x="542.50" y="223.20" font-size="9.6" text-anchor="start" fill="#222" textLength="35.60" lengthAdjust="spacingAndGlyphs" stroke="#222" stroke-width="0.04">=1.04%</text>
</svg>
</body></html>
